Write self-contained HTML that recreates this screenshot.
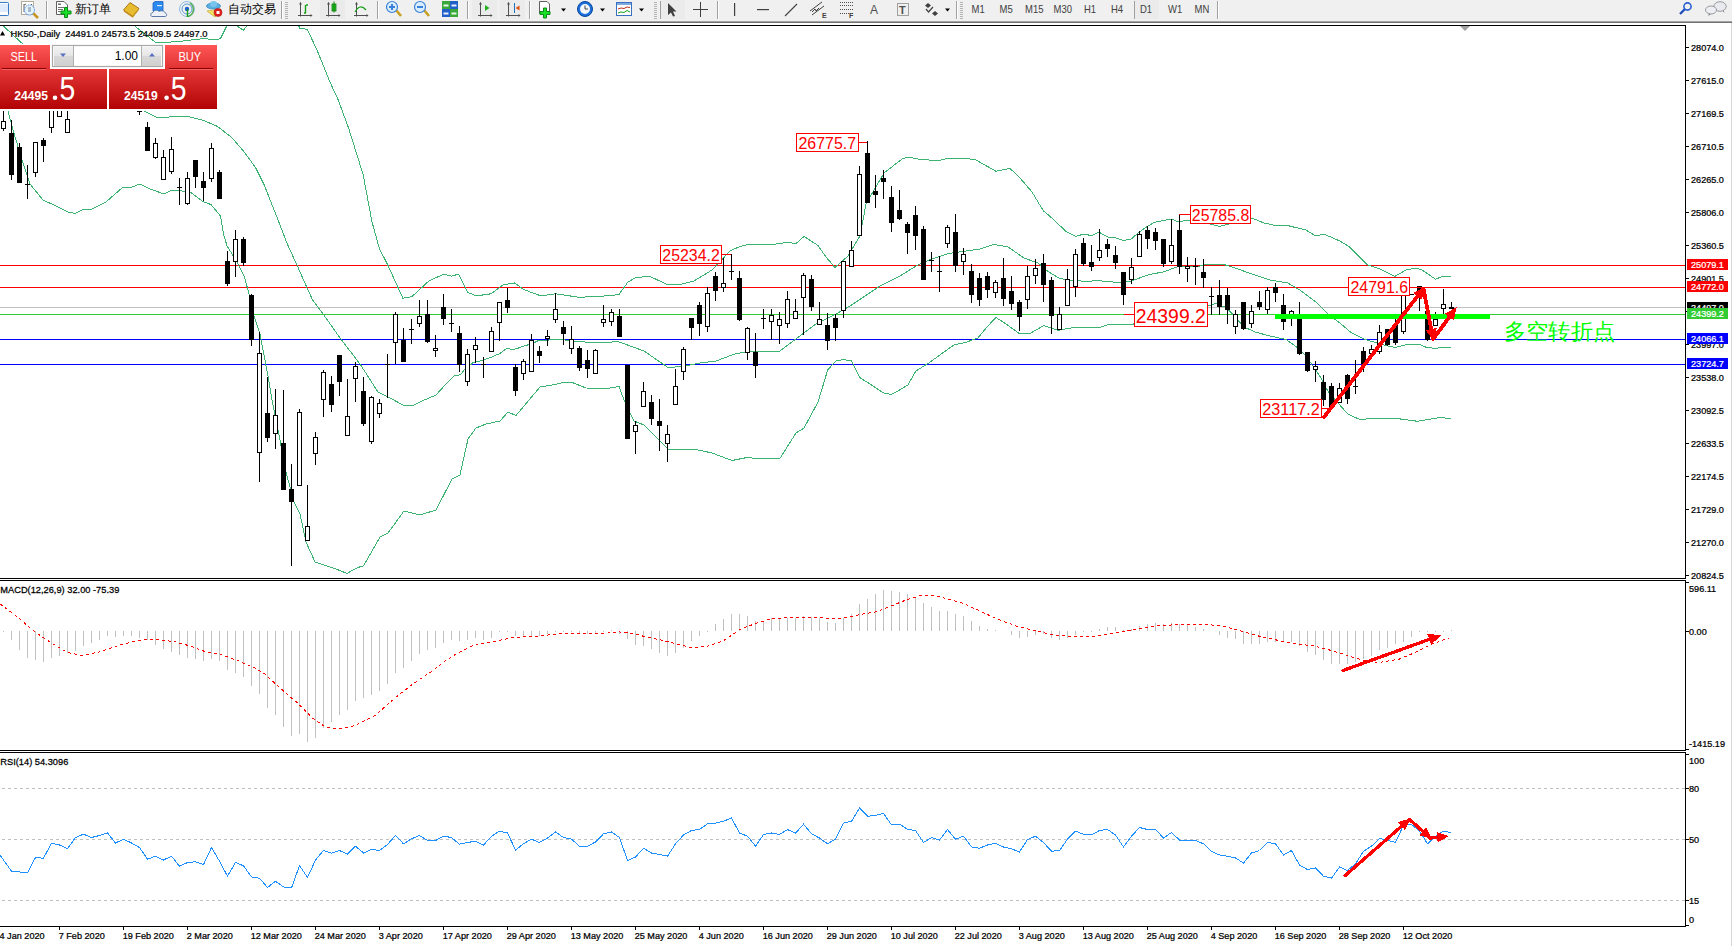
<!DOCTYPE html>
<html><head><meta charset="utf-8"><style>
html,body{margin:0;padding:0;width:1732px;height:946px;overflow:hidden;background:#fff;font-family:"Liberation Sans",sans-serif}
</style></head><body>
<svg width="1732" height="946" viewBox="0 0 1732 946" style="position:absolute;left:0;top:0;font-family:'Liberation Sans', sans-serif">
<defs>
<clipPath id="cm"><rect x="0" y="26" width="1685" height="552"/></clipPath>
<clipPath id="cmacd"><rect x="0" y="581" width="1685" height="169"/></clipPath>
<clipPath id="crsi"><rect x="0" y="753" width="1685" height="173"/></clipPath>
<linearGradient id="gred" x1="0" y1="0" x2="0" y2="1"><stop offset="0" stop-color="#ff5656"/><stop offset="1" stop-color="#e03232"/></linearGradient>
<linearGradient id="gred2" x1="0" y1="0" x2="0" y2="1"><stop offset="0" stop-color="#e43636"/><stop offset="1" stop-color="#b20404"/></linearGradient>
<linearGradient id="gbtn" x1="0" y1="0" x2="0" y2="1"><stop offset="0" stop-color="#f2f2f2"/><stop offset="0.45" stop-color="#e6e6e6"/><stop offset="0.5" stop-color="#d8d8d8"/><stop offset="1" stop-color="#d0d0d0"/></linearGradient>
</defs>
<rect x="0" y="0" width="1732" height="946" fill="#fff"/>
<rect x="0" y="0" width="1732" height="21" fill="#f0f0f0"/>
<rect x="0" y="21" width="1732" height="1" fill="#a4a4a4"/>
<rect x="0" y="22" width="1732" height="1" fill="#727272"/>
<rect x="1731" y="23" width="1" height="923" fill="#d8d8d8"/>
<rect x="-3.5" y="2.5" width="12" height="13" rx="1" fill="#fff" stroke="#3a78c8" stroke-width="1"/>
<rect x="0" y="4.5" width="8" height="1" fill="#c0d8f8"/>
<rect x="0" y="6.5" width="8" height="1" fill="#c0d8f8"/>
<rect x="0" y="8.5" width="8" height="1" fill="#c0d8f8"/>
<rect x="0" y="10.5" width="8" height="1" fill="#c0d8f8"/>
<rect x="21.5" y="1.5" width="12" height="13" fill="#fff" stroke="#b4ac96" stroke-width="1"/>
<path d="M24,4 V12 M24,5 L26,4 M31,4 L32,5" stroke="#606060" stroke-width="1" fill="none"/>
<circle cx="29.5" cy="10" r="5" fill="#e2f4fc" stroke="#5a90e0" stroke-width="1" stroke-dasharray="1.5,0.6"/>
<rect x="28" y="7" width="3" height="5" fill="#a8b8c8"/>
<line x1="33.5" y1="13.5" x2="38" y2="18" stroke="#c8961e" stroke-width="2.5"/>
<rect x="46" y="1" width="1" height="18" fill="#a0a0a0"/><rect x="47" y="1" width="1" height="18" fill="#ffffff"/>
<path d="M56.5,1.5 H64 L67.5,5 V14.5 H56.5 Z" fill="#fff" stroke="#606060" stroke-width="1"/>
<rect x="58" y="3.5" width="3" height="1.5" fill="#707070"/><rect x="58" y="7" width="6" height="1" fill="#707070"/><rect x="58" y="9" width="5" height="1" fill="#707070"/><rect x="58" y="11" width="3" height="1" fill="#707070"/>
<path d="M64.5,7.5 h3 v3.5 h3.5 v3 h-3.5 v3.5 h-3 v-3.5 h-3.5 v-3 h3.5 z" fill="#18e028" stroke="#0a8a14" stroke-width="1"/>
<text x="75" y="13" font-size="12" fill="#000">新订单</text>
<path d="M123.5,10 L130,2.5 L139,8.5 L133,16.5 Z" fill="#e8bc30" stroke="#a8781a" stroke-width="1"/>
<path d="M124,11 L132.5,17 L138.5,9.5" fill="none" stroke="#c89020" stroke-width="1.2"/>
<path d="M153,3 L155,1.5 H163 V11 H153 Z" fill="#2a8af0" stroke="#1a60c0" stroke-width="0.8"/>
<rect x="157" y="5" width="5" height="1.2" fill="#d8ecff"/>
<path d="M152,16.5 C150,16 150.5,12.5 153,12.5 C153.5,10 157.5,9.5 159,11.5 C161,10 165,11 165,13 C167.5,13.5 167,16.5 165,16.5 Z" fill="#eef2f8" stroke="#5a78a8" stroke-width="1"/>
<circle cx="187" cy="9" r="7.5" fill="none" stroke="#78b0e0" stroke-width="1" opacity="0.8"/>
<circle cx="187" cy="9" r="5" fill="none" stroke="#5a98d8" stroke-width="1"/>
<path d="M190,3 A7.5,7.5 0 0 1 188,16.5" fill="none" stroke="#58b058" stroke-width="1.5"/>
<circle cx="187" cy="9" r="2.2" fill="#2060d0"/>
<line x1="187.5" y1="9" x2="187.5" y2="17" stroke="#18a018" stroke-width="1.4"/>
<path d="M207,11 L215,17 L221,9 Z" fill="#f4e060" stroke="#c8b040" stroke-width="0.8"/>
<ellipse cx="213.5" cy="6" rx="7" ry="3" fill="#58b0e0" stroke="#3a88c0" stroke-width="0.8"/>
<ellipse cx="213.5" cy="4" rx="3.5" ry="3" fill="#78c4ec"/>
<circle cx="218" cy="12.5" r="4" fill="#e02020" stroke="#b01010" stroke-width="0.6"/>
<rect x="216.5" y="11" width="3" height="3" fill="#fff"/>
<text x="228" y="13" font-size="12" fill="#000">自动交易</text>
<rect x="281" y="1" width="1" height="18" fill="#a0a0a0"/><rect x="282" y="1" width="1" height="18" fill="#ffffff"/>
<rect x="285" y="2" width="3" height="1" fill="#b4b4b4"/>
<rect x="285" y="4" width="3" height="1" fill="#b4b4b4"/>
<rect x="285" y="6" width="3" height="1" fill="#b4b4b4"/>
<rect x="285" y="8" width="3" height="1" fill="#b4b4b4"/>
<rect x="285" y="10" width="3" height="1" fill="#b4b4b4"/>
<rect x="285" y="12" width="3" height="1" fill="#b4b4b4"/>
<rect x="285" y="14" width="3" height="1" fill="#b4b4b4"/>
<rect x="285" y="16" width="3" height="1" fill="#b4b4b4"/>
<rect x="285" y="18" width="3" height="1" fill="#b4b4b4"/>
<path d="M300.5,2.5 V16.5 M298.0,15.5 H312.0" stroke="#505050" stroke-width="1" fill="none"/>
<polygon points="300.5,2 299.0,4.5 302.0,4.5" fill="#505050"/>
<polygon points="312.5,15.5 310.5,14 310.5,17" fill="#505050"/>
<path d="M305.5,13 V5 M304,13 H306 M306,5 H308" stroke="#18a018" stroke-width="1.4" fill="none"/>
<rect x="320" y="0" width="25" height="19" fill="#eaeaea"/>
<path d="M328.5,2.5 V16.5 M326.0,15.5 H340.0" stroke="#505050" stroke-width="1" fill="none"/>
<polygon points="328.5,2 327.0,4.5 330.0,4.5" fill="#505050"/>
<polygon points="340.5,15.5 338.5,14 338.5,17" fill="#505050"/>
<rect x="332" y="4" width="4" height="7" fill="#20c020" stroke="#108010" stroke-width="0.8"/><rect x="333.5" y="1.5" width="1" height="11" fill="#108010"/>
<path d="M356.5,2.5 V16.5 M354.0,15.5 H368.0" stroke="#505050" stroke-width="1" fill="none"/>
<polygon points="356.5,2 355.0,4.5 358.0,4.5" fill="#505050"/>
<polygon points="368.5,15.5 366.5,14 366.5,17" fill="#505050"/>
<path d="M355,12 Q360,3 366,10" stroke="#18a018" stroke-width="1.2" fill="none"/>
<rect x="377" y="1" width="1" height="18" fill="#a0a0a0"/><rect x="378" y="1" width="1" height="18" fill="#ffffff"/>
<line x1="396.0" y1="10.0" x2="401.0" y2="16.0" stroke="#c8a020" stroke-width="2.6"/>
<circle cx="392.0" cy="7" r="5.5" fill="#d8eefc" stroke="#3a80d8" stroke-width="1.2"/>
<rect x="389.0" y="6" width="6" height="2" fill="#3a80d8"/>
<rect x="391.0" y="4" width="2" height="6" fill="#3a80d8"/>
<line x1="424.0" y1="10.0" x2="429.0" y2="16.0" stroke="#c8a020" stroke-width="2.6"/>
<circle cx="420.0" cy="7" r="5.5" fill="#d8eefc" stroke="#3a80d8" stroke-width="1.2"/>
<rect x="417.0" y="6" width="6" height="2" fill="#3a80d8"/>
<rect x="442" y="1" width="8" height="8" fill="#38a838"/><rect x="450" y="1" width="8" height="8" fill="#2060c8"/><rect x="442" y="9" width="8" height="8" fill="#2060c8"/><rect x="450" y="9" width="8" height="8" fill="#38a838"/>
<rect x="443.5" y="4.5" width="5" height="2" fill="#e8f8e8"/><rect x="451.5" y="4.5" width="5" height="2" fill="#e8f0ff"/><rect x="443.5" y="12.5" width="5" height="2" fill="#e8f0ff"/><rect x="451.5" y="12.5" width="5" height="2" fill="#e8f8e8"/>
<rect x="467" y="1" width="1" height="18" fill="#a0a0a0"/><rect x="468" y="1" width="1" height="18" fill="#ffffff"/>
<rect x="472" y="0" width="25" height="19" fill="#ebebeb"/>
<rect x="500" y="0" width="25" height="19" fill="#ebebeb"/>
<path d="M480.5,2.5 V16.5 M478.0,15.5 H492.0" stroke="#505050" stroke-width="1" fill="none"/>
<polygon points="480.5,2 479.0,4.5 482.0,4.5" fill="#505050"/>
<polygon points="492.5,15.5 490.5,14 490.5,17" fill="#505050"/>
<polygon points="485,5 485,11 489.5,8" fill="#20b020"/>
<path d="M508.5,2.5 V16.5 M506.0,15.5 H520.0" stroke="#505050" stroke-width="1" fill="none"/>
<polygon points="508.5,2 507.0,4.5 510.0,4.5" fill="#505050"/>
<polygon points="520.5,15.5 518.5,14 518.5,17" fill="#505050"/>
<rect x="514" y="3" width="1" height="10" fill="#2070c0"/><polygon points="515.5,8 519.5,5.5 519.5,10.5" fill="#e05010"/>
<rect x="529" y="1" width="1" height="18" fill="#a0a0a0"/><rect x="530" y="1" width="1" height="18" fill="#ffffff"/>
<path d="M539.5,1.5 H547 L549.5,4 V13.5 H539.5 Z" fill="#fff" stroke="#606060" stroke-width="1"/>
<path d="M543.5,8 h3 v3.5 h3.5 v3 h-3.5 v3.5 h-3 v-3.5 h-3.5 v-3 h3.5 z" fill="#18e028" stroke="#0a8a14" stroke-width="1"/>
<polygon points="561,8.5 566,8.5 563.5,11.5" fill="#000"/>
<circle cx="585" cy="9" r="7.5" fill="#1a70d8" stroke="#0a48a0" stroke-width="1"/>
<circle cx="585" cy="9" r="5" fill="#f4f8fc"/>
<path d="M585,5.5 V9 H588" stroke="#303030" stroke-width="0.9" fill="none"/>
<polygon points="600,8.5 605,8.5 602.5,11.5" fill="#000"/>
<rect x="616.5" y="2.5" width="15" height="13" fill="#fff" stroke="#3a70c0" stroke-width="1"/>
<rect x="617" y="3" width="14" height="2" fill="#80a8e0"/>
<path d="M618,9 L621,8 L624,8.5 L627,7 L630,7.5" stroke="#c03020" stroke-width="1" fill="none"/>
<path d="M618,13 L621,12 L624,12.5 L627,10.5 L630,12" stroke="#20a020" stroke-width="1" fill="none"/>
<polygon points="639,8.5 644,8.5 641.5,11.5" fill="#000"/>
<rect x="654" y="2" width="3" height="1" fill="#b4b4b4"/>
<rect x="654" y="4" width="3" height="1" fill="#b4b4b4"/>
<rect x="654" y="6" width="3" height="1" fill="#b4b4b4"/>
<rect x="654" y="8" width="3" height="1" fill="#b4b4b4"/>
<rect x="654" y="10" width="3" height="1" fill="#b4b4b4"/>
<rect x="654" y="12" width="3" height="1" fill="#b4b4b4"/>
<rect x="654" y="14" width="3" height="1" fill="#b4b4b4"/>
<rect x="654" y="16" width="3" height="1" fill="#b4b4b4"/>
<rect x="654" y="18" width="3" height="1" fill="#b4b4b4"/>
<rect x="660" y="1" width="1" height="18" fill="#a0a0a0"/><rect x="661" y="1" width="1" height="18" fill="#ffffff"/>
<rect x="661" y="0" width="24" height="19" fill="#ebebeb"/>
<polygon points="668,3 676.5,11.5 673,11.5 675,16 673,16.5 671,12.5 668,15" fill="#404040"/>
<path d="M700.5,2 V17 M693,9.5 H708" stroke="#404040" stroke-width="1" fill="none"/>
<rect x="717" y="1" width="1" height="18" fill="#a0a0a0"/><rect x="718" y="1" width="1" height="18" fill="#ffffff"/>
<rect x="734" y="3" width="1.2" height="13" fill="#404040"/>
<rect x="757" y="9" width="12" height="1.2" fill="#404040"/>
<line x1="785" y1="16" x2="797" y2="4" stroke="#404040" stroke-width="1.1"/>
<path d="M810,11 L822,2 M812,15 L824,6 M812,12 L815,9 L816,11 L819,8" stroke="#404040" stroke-width="1" fill="none"/>
<text x="822" y="18" font-size="7" font-weight="bold" fill="#404040">E</text>
<line x1="840" y1="2.5" x2="853" y2="2.5" stroke="#505050" stroke-width="1" stroke-dasharray="1,1"/>
<line x1="840" y1="5.5" x2="853" y2="5.5" stroke="#505050" stroke-width="1" stroke-dasharray="1,1"/>
<line x1="840" y1="9.5" x2="853" y2="9.5" stroke="#505050" stroke-width="1" stroke-dasharray="1,1"/>
<line x1="840" y1="13.5" x2="853" y2="13.5" stroke="#505050" stroke-width="1" stroke-dasharray="1,1"/>
<text x="849" y="18" font-size="7" font-weight="bold" fill="#404040">F</text>
<text x="870" y="14" font-size="12" fill="#505050">A</text>
<rect x="897.5" y="3.5" width="11" height="12" fill="none" stroke="#505050" stroke-width="1" stroke-dasharray="1,1"/>
<text x="899" y="14" font-size="11" font-weight="bold" fill="#505050">T</text>
<polygon points="928,3 931,5.5 928,8 925,5.5" fill="#404040"/><polygon points="935,11 938,13.5 935,16 932,13.5" fill="#404040"/><path d="M926,9 L928.5,12 L933,7" stroke="#404040" stroke-width="1.2" fill="none"/>
<polygon points="945,8.5 950,8.5 947.5,11.5" fill="#000"/>
<rect x="956" y="1" width="1" height="18" fill="#a0a0a0"/><rect x="957" y="1" width="1" height="18" fill="#ffffff"/>
<rect x="960" y="2" width="3" height="1" fill="#b4b4b4"/>
<rect x="960" y="4" width="3" height="1" fill="#b4b4b4"/>
<rect x="960" y="6" width="3" height="1" fill="#b4b4b4"/>
<rect x="960" y="8" width="3" height="1" fill="#b4b4b4"/>
<rect x="960" y="10" width="3" height="1" fill="#b4b4b4"/>
<rect x="960" y="12" width="3" height="1" fill="#b4b4b4"/>
<rect x="960" y="14" width="3" height="1" fill="#b4b4b4"/>
<rect x="960" y="16" width="3" height="1" fill="#b4b4b4"/>
<rect x="960" y="18" width="3" height="1" fill="#b4b4b4"/>
<rect x="1134" y="0" width="25" height="19" fill="#ebebeb"/>
<rect x="1134" y="1" width="1" height="18" fill="#a0a0a0"/>
<text x="0" y="0" font-size="10" fill="#404040" transform="translate(971.5,13) scale(0.95,1)">M1</text>
<text x="0" y="0" font-size="10" fill="#404040" transform="translate(999.5,13) scale(0.95,1)">M5</text>
<text x="0" y="0" font-size="10" fill="#404040" transform="translate(1025.0,13) scale(0.95,1)">M15</text>
<text x="0" y="0" font-size="10" fill="#404040" transform="translate(1053.5,13) scale(0.95,1)">M30</text>
<text x="0" y="0" font-size="10" fill="#404040" transform="translate(1084.0,13) scale(0.95,1)">H1</text>
<text x="0" y="0" font-size="10" fill="#404040" transform="translate(1111.0,13) scale(0.95,1)">H4</text>
<text x="0" y="0" font-size="10" fill="#404040" transform="translate(1140.0,13) scale(0.95,1)">D1</text>
<text x="0" y="0" font-size="10" fill="#404040" transform="translate(1168.0,13) scale(0.95,1)">W1</text>
<text x="0" y="0" font-size="10" fill="#404040" transform="translate(1194.5,13) scale(0.95,1)">MN</text>
<rect x="1217" y="1" width="1" height="18" fill="#a0a0a0"/><rect x="1218" y="1" width="1" height="18" fill="#ffffff"/>
<line x1="1680" y1="14" x2="1685" y2="9" stroke="#2050c0" stroke-width="2.4"/>
<circle cx="1687.5" cy="6.5" r="3.6" fill="none" stroke="#2a60d0" stroke-width="1.6"/>
<polygon points="1722,10 1724.5,13 1723,9" fill="#606060"/>
<ellipse cx="1720" cy="6.5" rx="6.2" ry="4.8" fill="#e8eaf0" stroke="#909090" stroke-width="0.9"/>
<polygon points="1709,13 1708.5,16 1711,13.5" fill="#606060"/>
<ellipse cx="1711" cy="10" rx="5.5" ry="4" fill="#eceef4" stroke="#909090" stroke-width="0.9"/>
<path d="M0,25.5 H1685.5 V578.5 H0" fill="none" stroke="#000" stroke-width="1" shape-rendering="crispEdges"/>
<polygon points="1460,26 1470,26 1465,31" fill="#a0a0a0"/>
<path d="M0,580.5 H1685.5 V750.5 H0" fill="none" stroke="#000" stroke-width="1" shape-rendering="crispEdges"/>
<path d="M0,752.5 H1685.5 V926.5 H0" fill="none" stroke="#000" stroke-width="1" shape-rendering="crispEdges"/>
<g clip-path="url(#cm)">
<rect x="0" y="265" width="1685" height="1" fill="#ff0000"/>
<rect x="0" y="287" width="1685" height="1" fill="#ff0000"/>
<rect x="0" y="307" width="1685" height="1" fill="#c0c0c0"/>
<rect x="0" y="314" width="1685" height="1" fill="#32cd32"/>
<rect x="0" y="339" width="1685" height="1" fill="#0000ff"/>
<rect x="0" y="364" width="1685" height="1" fill="#0000ff"/>
<polyline points="100.0,-20.0 135.0,26.2 155.2,42.1 163.5,42.5 180.0,41.4 196.8,39.3 205.0,38.6 212.0,39.7 220.3,38.9 227.2,25.0 230.0,20.0 234.3,24.0 243.3,30.3 252.0,20.0 290.0,20.0 298.2,25.0 300.0,28.5 307.3,29.3 317.6,51.4 329.4,80.8 338.2,99.9 348.5,127.8 363.2,174.8 372.0,221.8 379.3,248.3 388.2,265.9 402.9,298.2 411.7,296.8 429.3,280.6 444.0,274.1 451.3,276.2 458.7,274.1 467.5,292.3 476.3,295.9 491.0,293.8 502.8,285.0 514.5,282.9 523.3,289.4 541.0,295.9 555.6,293.8 579.2,297.3 605.6,295.9 618.8,294.7 628.0,282.0 636.0,277.4 650.0,276.4 668.0,285.0 680.0,284.5 694.0,281.0 712.0,270.0 730.0,251.0 740.0,246.4 748.0,244.4 768.0,245.0 788.0,242.4 796.0,243.6 804.0,236.4 818.0,245.5 826.0,257.0 835.0,267.5 848.0,256.0 860.0,236.0 866.0,204.0 884.0,173.0 902.0,159.0 908.0,157.0 920.0,159.4 938.0,160.6 948.0,158.4 966.0,158.4 976.0,160.0 996.0,171.3 1010.0,168.4 1020.0,178.0 1032.0,192.0 1040.0,205.3 1043.2,210.6 1049.5,215.9 1066.4,231.7 1075.9,236.5 1082.3,234.4 1087.6,234.9 1091.8,235.4 1099.2,232.2 1107.6,237.0 1114.0,237.2 1123.5,240.4 1130.9,239.3 1138.3,232.8 1145.7,227.5 1154.2,222.4 1160.5,221.1 1171.1,219.0 1179.5,222.2 1186.0,220.0 1210.0,224.0 1220.0,226.4 1236.0,222.0 1252.0,218.0 1263.9,223.0 1277.8,226.0 1287.8,225.6 1305.8,230.0 1315.8,236.0 1323.8,234.0 1339.8,241.0 1349.7,247.0 1367.7,265.0 1379.7,269.0 1395.0,276.3 1406.0,270.0 1415.7,268.0 1422.0,270.0 1435.7,279.3 1442.4,276.3 1451.0,276.3" fill="none" stroke="#3cb371" stroke-width="1" shape-rendering="crispEdges"/>
<polyline points="0.0,20.0 3.5,26.2 21.5,42.8 40.0,60.0 100.0,95.0 144.0,111.0 156.0,117.0 164.0,117.6 174.0,116.4 188.0,116.4 202.7,120.1 217.5,126.4 232.3,138.0 244.9,152.8 255.5,167.6 264.0,184.5 276.6,216.2 287.2,243.7 297.8,266.9 306.2,285.9 312.5,299.9 326.0,318.0 340.0,338.0 360.0,364.0 378.0,392.0 390.0,398.0 404.0,405.5 414.0,405.0 422.0,401.0 436.0,395.0 445.0,385.0 454.0,375.9 460.3,374.8 464.6,369.6 473.0,362.7 479.4,361.1 485.7,359.0 492.0,356.9 499.4,353.7 506.8,348.4 513.2,349.5 517.4,348.4 525.9,345.2 530.1,344.7 538.5,340.5 549.1,340.0 560.0,339.5 578.0,341.5 600.0,343.0 618.0,341.5 644.0,351.0 668.0,367.5 682.0,366.5 700.0,363.0 716.0,361.0 734.0,354.3 748.0,351.5 760.0,351.0 780.0,351.0 796.0,339.0 816.0,324.0 836.0,314.0 850.0,306.0 868.0,294.0 880.0,286.0 900.0,276.0 916.0,266.0 930.0,259.6 948.0,253.6 962.0,251.6 980.0,249.0 994.0,244.4 1008.0,247.0 1023.9,258.0 1037.8,263.0 1040.0,264.5 1046.3,270.3 1059.0,278.2 1065.4,279.5 1071.7,280.3 1079.1,280.9 1088.6,281.6 1097.1,280.3 1105.5,281.6 1120.3,282.4 1127.7,281.9 1133.0,280.5 1140.4,277.7 1145.7,275.6 1152.0,274.0 1163.7,271.9 1172.1,268.7 1179.5,266.1 1188.0,266.6 1198.5,266.4 1207.0,264.3 1223.6,264.4 1235.9,268.3 1251.9,274.0 1269.8,280.0 1287.8,283.0 1299.8,290.0 1315.8,302.0 1327.8,314.0 1339.8,323.0 1351.7,333.0 1363.7,339.0 1379.7,343.8 1390.0,346.5 1395.0,347.4 1407.0,344.4 1419.6,344.4 1426.4,347.4 1434.0,348.2 1451.0,347.4" fill="none" stroke="#3cb371" stroke-width="1" shape-rendering="crispEdges"/>
<polyline points="0.0,100.0 8.0,111.0 13.0,130.0 22.0,160.0 30.0,184.0 43.0,200.0 56.0,206.0 68.0,212.0 75.0,213.5 82.0,210.0 92.0,209.0 106.0,202.0 122.0,188.0 132.0,187.0 140.0,184.0 150.0,189.0 164.0,194.0 172.0,190.0 190.0,191.9 202.7,201.4 211.1,204.6 220.6,216.2 223.8,235.2 227.0,245.8 237.5,262.7 243.9,275.4 249.2,294.4 254.0,316.0 260.0,334.0 268.0,376.0 272.0,400.0 280.0,440.0 286.0,472.0 294.0,502.0 300.0,514.0 306.0,542.0 315.0,562.0 324.0,565.0 336.0,569.0 347.0,573.4 358.0,567.4 363.4,566.0 380.0,537.0 388.0,533.0 404.0,511.0 420.0,515.0 436.0,510.0 452.0,479.0 460.0,475.0 468.0,439.0 476.0,428.0 486.0,424.0 500.0,421.0 508.0,412.0 516.0,415.5 540.0,387.0 552.0,385.0 566.0,382.0 572.0,382.4 586.0,388.0 608.0,388.4 619.0,386.4 624.0,400.0 634.0,421.0 644.0,425.0 669.0,450.0 696.0,449.5 712.0,453.0 732.0,460.5 748.0,457.3 754.0,458.3 780.0,458.3 796.0,433.0 804.0,428.0 818.0,402.0 827.7,370.0 835.7,361.0 843.7,359.5 851.7,361.0 859.6,377.5 871.6,385.0 883.6,393.0 891.6,394.4 900.0,389.8 908.0,384.9 916.0,370.9 928.0,363.5 954.0,344.9 966.0,342.3 978.0,337.9 988.0,325.9 995.9,317.5 1005.9,323.9 1019.9,333.9 1029.8,333.5 1043.8,325.5 1057.8,330.3 1071.8,327.9 1099.8,327.3 1109.7,324.3 1123.7,324.9 1134.7,323.9 1170.0,315.0 1207.9,305.9 1215.9,303.5 1225.9,307.5 1233.9,315.5 1243.9,326.9 1255.9,332.3 1269.8,335.9 1285.8,339.4 1297.8,347.8 1305.8,355.8 1319.8,376.0 1327.8,391.0 1339.8,405.0 1347.7,413.9 1359.7,419.5 1367.7,418.9 1399.7,418.9 1417.7,421.3 1439.6,417.5 1451.0,418.5" fill="none" stroke="#3cb371" stroke-width="1" shape-rendering="crispEdges"/>
<rect x="3" y="100" width="1" height="31" fill="#000"/>
<rect x="1.5" y="121.5" width="4" height="7" fill="#fff" stroke="#000" stroke-width="1" shape-rendering="crispEdges"/>
<rect x="11" y="120" width="1" height="60" fill="#000"/>
<rect x="9" y="133" width="5" height="42" fill="#000"/>
<rect x="19" y="143" width="1" height="40" fill="#000"/>
<rect x="17" y="147" width="5" height="36" fill="#000"/>
<rect x="27" y="165" width="1" height="34" fill="#000"/>
<rect x="25" y="184" width="5" height="1" fill="#000"/>
<rect x="35" y="142" width="1" height="35" fill="#000"/>
<rect x="33.5" y="142.5" width="4" height="30" fill="#fff" stroke="#000" stroke-width="1" shape-rendering="crispEdges"/>
<rect x="43" y="138" width="1" height="24" fill="#000"/>
<rect x="41" y="140" width="5" height="6" fill="#000"/>
<rect x="51" y="90" width="1" height="43" fill="#000"/>
<rect x="49.5" y="95.5" width="4" height="32" fill="#fff" stroke="#000" stroke-width="1" shape-rendering="crispEdges"/>
<rect x="59" y="95" width="1" height="22" fill="#000"/>
<rect x="57.5" y="100.5" width="4" height="16" fill="#fff" stroke="#000" stroke-width="1" shape-rendering="crispEdges"/>
<rect x="67" y="100" width="1" height="33" fill="#000"/>
<rect x="65.5" y="119.5" width="4" height="13" fill="#fff" stroke="#000" stroke-width="1" shape-rendering="crispEdges"/>
<rect x="75" y="70" width="1" height="31" fill="#000"/>
<rect x="73" y="75" width="5" height="21" fill="#000"/>
<rect x="83" y="60" width="1" height="36" fill="#000"/>
<rect x="81.5" y="70.5" width="4" height="20" fill="#fff" stroke="#000" stroke-width="1" shape-rendering="crispEdges"/>
<rect x="91" y="55" width="1" height="36" fill="#000"/>
<rect x="89" y="60" width="5" height="21" fill="#000"/>
<rect x="99" y="60" width="1" height="36" fill="#000"/>
<rect x="97.5" y="65.5" width="4" height="20" fill="#fff" stroke="#000" stroke-width="1" shape-rendering="crispEdges"/>
<rect x="107" y="70" width="1" height="31" fill="#000"/>
<rect x="105" y="75" width="5" height="21" fill="#000"/>
<rect x="115" y="70" width="1" height="31" fill="#000"/>
<rect x="113.5" y="80.5" width="4" height="12" fill="#fff" stroke="#000" stroke-width="1" shape-rendering="crispEdges"/>
<rect x="123" y="75" width="1" height="31" fill="#000"/>
<rect x="121" y="80" width="5" height="21" fill="#000"/>
<rect x="131" y="80" width="1" height="28" fill="#000"/>
<rect x="129" y="90" width="5" height="15" fill="#000"/>
<rect x="139" y="100" width="1" height="15" fill="#000"/>
<rect x="137" y="111" width="5" height="1" fill="#000"/>
<rect x="147" y="122" width="1" height="29" fill="#000"/>
<rect x="145" y="127" width="5" height="24" fill="#000"/>
<rect x="155" y="138" width="1" height="21" fill="#000"/>
<rect x="153.5" y="143.5" width="4" height="14" fill="#fff" stroke="#000" stroke-width="1" shape-rendering="crispEdges"/>
<rect x="163" y="150" width="1" height="30" fill="#000"/>
<rect x="161.5" y="157.5" width="4" height="22" fill="#fff" stroke="#000" stroke-width="1" shape-rendering="crispEdges"/>
<rect x="171" y="137" width="1" height="37" fill="#000"/>
<rect x="169.5" y="149.5" width="4" height="22" fill="#fff" stroke="#000" stroke-width="1" shape-rendering="crispEdges"/>
<rect x="179" y="178" width="1" height="27" fill="#000"/>
<rect x="177" y="187" width="5" height="1" fill="#000"/>
<rect x="187" y="172" width="1" height="33" fill="#000"/>
<rect x="185.5" y="178.5" width="4" height="25" fill="#fff" stroke="#000" stroke-width="1" shape-rendering="crispEdges"/>
<rect x="195" y="160" width="1" height="28" fill="#000"/>
<rect x="193" y="160" width="5" height="17" fill="#000"/>
<rect x="203" y="172" width="1" height="29" fill="#000"/>
<rect x="201" y="181" width="5" height="7" fill="#000"/>
<rect x="211" y="143" width="1" height="39" fill="#000"/>
<rect x="209.5" y="148.5" width="4" height="30" fill="#fff" stroke="#000" stroke-width="1" shape-rendering="crispEdges"/>
<rect x="219" y="170" width="1" height="29" fill="#000"/>
<rect x="217" y="172" width="5" height="27" fill="#000"/>
<rect x="227" y="251" width="1" height="35" fill="#000"/>
<rect x="225" y="261" width="5" height="23" fill="#000"/>
<rect x="235" y="230" width="1" height="47" fill="#000"/>
<rect x="233.5" y="239.5" width="4" height="22" fill="#fff" stroke="#000" stroke-width="1" shape-rendering="crispEdges"/>
<rect x="243" y="237" width="1" height="29" fill="#000"/>
<rect x="241" y="239" width="5" height="24" fill="#000"/>
<rect x="251" y="294" width="1" height="52" fill="#000"/>
<rect x="249" y="295" width="5" height="45" fill="#000"/>
<rect x="259" y="332" width="1" height="150" fill="#000"/>
<rect x="257.5" y="353.5" width="4" height="99" fill="#fff" stroke="#000" stroke-width="1" shape-rendering="crispEdges"/>
<rect x="267" y="377" width="1" height="65" fill="#000"/>
<rect x="265" y="413" width="5" height="25" fill="#000"/>
<rect x="275" y="389" width="1" height="60" fill="#000"/>
<rect x="273.5" y="415.5" width="4" height="18" fill="#fff" stroke="#000" stroke-width="1" shape-rendering="crispEdges"/>
<rect x="283" y="390" width="1" height="100" fill="#000"/>
<rect x="281" y="443" width="5" height="47" fill="#000"/>
<rect x="291" y="464" width="1" height="102" fill="#000"/>
<rect x="289" y="489" width="5" height="13" fill="#000"/>
<rect x="299" y="409" width="1" height="77" fill="#000"/>
<rect x="297.5" y="412.5" width="4" height="73" fill="#fff" stroke="#000" stroke-width="1" shape-rendering="crispEdges"/>
<rect x="307" y="485" width="1" height="56" fill="#000"/>
<rect x="305.5" y="526.5" width="4" height="14" fill="#fff" stroke="#000" stroke-width="1" shape-rendering="crispEdges"/>
<rect x="315" y="432" width="1" height="33" fill="#000"/>
<rect x="313.5" y="437.5" width="4" height="16" fill="#fff" stroke="#000" stroke-width="1" shape-rendering="crispEdges"/>
<rect x="323" y="370" width="1" height="47" fill="#000"/>
<rect x="321.5" y="372.5" width="4" height="27" fill="#fff" stroke="#000" stroke-width="1" shape-rendering="crispEdges"/>
<rect x="331" y="376" width="1" height="36" fill="#000"/>
<rect x="329" y="384" width="5" height="21" fill="#000"/>
<rect x="339" y="355" width="1" height="41" fill="#000"/>
<rect x="337" y="355" width="5" height="27" fill="#000"/>
<rect x="347" y="379" width="1" height="57" fill="#000"/>
<rect x="345.5" y="416.5" width="4" height="19" fill="#fff" stroke="#000" stroke-width="1" shape-rendering="crispEdges"/>
<rect x="355" y="362" width="1" height="40" fill="#000"/>
<rect x="353.5" y="366.5" width="4" height="12" fill="#fff" stroke="#000" stroke-width="1" shape-rendering="crispEdges"/>
<rect x="363" y="377" width="1" height="49" fill="#000"/>
<rect x="361" y="391" width="5" height="33" fill="#000"/>
<rect x="371" y="396" width="1" height="48" fill="#000"/>
<rect x="369.5" y="397.5" width="4" height="44" fill="#fff" stroke="#000" stroke-width="1" shape-rendering="crispEdges"/>
<rect x="379" y="399" width="1" height="19" fill="#000"/>
<rect x="377.5" y="403.5" width="4" height="10" fill="#fff" stroke="#000" stroke-width="1" shape-rendering="crispEdges"/>
<rect x="387" y="354" width="1" height="44" fill="#000"/>
<rect x="385" y="364" width="5" height="1" fill="#000"/>
<rect x="395" y="312" width="1" height="52" fill="#000"/>
<rect x="393.5" y="314.5" width="4" height="28" fill="#fff" stroke="#000" stroke-width="1" shape-rendering="crispEdges"/>
<rect x="403" y="328" width="1" height="34" fill="#000"/>
<rect x="401" y="340" width="5" height="22" fill="#000"/>
<rect x="411" y="319" width="1" height="25" fill="#000"/>
<rect x="409" y="329" width="5" height="1" fill="#000"/>
<rect x="419" y="300" width="1" height="27" fill="#000"/>
<rect x="417.5" y="316.5" width="4" height="7" fill="#fff" stroke="#000" stroke-width="1" shape-rendering="crispEdges"/>
<rect x="427" y="300" width="1" height="43" fill="#000"/>
<rect x="425" y="314" width="5" height="28" fill="#000"/>
<rect x="435" y="335" width="1" height="22" fill="#000"/>
<rect x="433.5" y="348.5" width="4" height="2" fill="#fff" stroke="#000" stroke-width="1" shape-rendering="crispEdges"/>
<rect x="443" y="294" width="1" height="31" fill="#000"/>
<rect x="441" y="307" width="5" height="12" fill="#000"/>
<rect x="451" y="309" width="1" height="23" fill="#000"/>
<rect x="449" y="323" width="5" height="1" fill="#000"/>
<rect x="459" y="326" width="1" height="46" fill="#000"/>
<rect x="457" y="333" width="5" height="32" fill="#000"/>
<rect x="467" y="349" width="1" height="37" fill="#000"/>
<rect x="465.5" y="354.5" width="4" height="27" fill="#fff" stroke="#000" stroke-width="1" shape-rendering="crispEdges"/>
<rect x="475" y="337" width="1" height="26" fill="#000"/>
<rect x="473.5" y="345.5" width="4" height="4" fill="#fff" stroke="#000" stroke-width="1" shape-rendering="crispEdges"/>
<rect x="483" y="357" width="1" height="21" fill="#000"/>
<rect x="481" y="364" width="5" height="1" fill="#000"/>
<rect x="491" y="327" width="1" height="25" fill="#000"/>
<rect x="489.5" y="331.5" width="4" height="20" fill="#fff" stroke="#000" stroke-width="1" shape-rendering="crispEdges"/>
<rect x="499" y="302" width="1" height="39" fill="#000"/>
<rect x="497.5" y="302.5" width="4" height="20" fill="#fff" stroke="#000" stroke-width="1" shape-rendering="crispEdges"/>
<rect x="507" y="288" width="1" height="25" fill="#000"/>
<rect x="505" y="300" width="5" height="8" fill="#000"/>
<rect x="515" y="364" width="1" height="32" fill="#000"/>
<rect x="513" y="367" width="5" height="24" fill="#000"/>
<rect x="523" y="359" width="1" height="21" fill="#000"/>
<rect x="521.5" y="361.5" width="4" height="12" fill="#fff" stroke="#000" stroke-width="1" shape-rendering="crispEdges"/>
<rect x="531" y="334" width="1" height="38" fill="#000"/>
<rect x="529.5" y="340.5" width="4" height="31" fill="#fff" stroke="#000" stroke-width="1" shape-rendering="crispEdges"/>
<rect x="539" y="346" width="1" height="17" fill="#000"/>
<rect x="537" y="351" width="5" height="5" fill="#000"/>
<rect x="547" y="330" width="1" height="16" fill="#000"/>
<rect x="545.5" y="336.5" width="4" height="2" fill="#fff" stroke="#000" stroke-width="1" shape-rendering="crispEdges"/>
<rect x="555" y="293" width="1" height="30" fill="#000"/>
<rect x="553.5" y="309.5" width="4" height="10" fill="#fff" stroke="#000" stroke-width="1" shape-rendering="crispEdges"/>
<rect x="563" y="321" width="1" height="24" fill="#000"/>
<rect x="561" y="327" width="5" height="7" fill="#000"/>
<rect x="571" y="326" width="1" height="28" fill="#000"/>
<rect x="569.5" y="339.5" width="4" height="9" fill="#fff" stroke="#000" stroke-width="1" shape-rendering="crispEdges"/>
<rect x="579" y="346" width="1" height="25" fill="#000"/>
<rect x="577" y="348" width="5" height="20" fill="#000"/>
<rect x="587" y="350" width="1" height="28" fill="#000"/>
<rect x="585" y="360" width="5" height="9" fill="#000"/>
<rect x="595" y="349" width="1" height="25" fill="#000"/>
<rect x="593.5" y="350.5" width="4" height="23" fill="#fff" stroke="#000" stroke-width="1" shape-rendering="crispEdges"/>
<rect x="603" y="305" width="1" height="22" fill="#000"/>
<rect x="601.5" y="319.5" width="4" height="3" fill="#fff" stroke="#000" stroke-width="1" shape-rendering="crispEdges"/>
<rect x="611" y="309" width="1" height="17" fill="#000"/>
<rect x="609.5" y="312.5" width="4" height="9" fill="#fff" stroke="#000" stroke-width="1" shape-rendering="crispEdges"/>
<rect x="619" y="309" width="1" height="28" fill="#000"/>
<rect x="617" y="316" width="5" height="21" fill="#000"/>
<rect x="627" y="365" width="1" height="74" fill="#000"/>
<rect x="625" y="365" width="5" height="74" fill="#000"/>
<rect x="635" y="421" width="1" height="33" fill="#000"/>
<rect x="633.5" y="425.5" width="4" height="6" fill="#fff" stroke="#000" stroke-width="1" shape-rendering="crispEdges"/>
<rect x="643" y="382" width="1" height="25" fill="#000"/>
<rect x="641.5" y="391.5" width="4" height="15" fill="#fff" stroke="#000" stroke-width="1" shape-rendering="crispEdges"/>
<rect x="651" y="395" width="1" height="30" fill="#000"/>
<rect x="649" y="402" width="5" height="17" fill="#000"/>
<rect x="659" y="399" width="1" height="52" fill="#000"/>
<rect x="657" y="421" width="5" height="5" fill="#000"/>
<rect x="667" y="425" width="1" height="37" fill="#000"/>
<rect x="665.5" y="434.5" width="4" height="9" fill="#fff" stroke="#000" stroke-width="1" shape-rendering="crispEdges"/>
<rect x="675" y="369" width="1" height="36" fill="#000"/>
<rect x="673.5" y="386.5" width="4" height="18" fill="#fff" stroke="#000" stroke-width="1" shape-rendering="crispEdges"/>
<rect x="683" y="347" width="1" height="33" fill="#000"/>
<rect x="681.5" y="349.5" width="4" height="22" fill="#fff" stroke="#000" stroke-width="1" shape-rendering="crispEdges"/>
<rect x="691" y="318" width="1" height="22" fill="#000"/>
<rect x="689" y="318" width="5" height="10" fill="#000"/>
<rect x="699" y="302" width="1" height="34" fill="#000"/>
<rect x="697" y="305" width="5" height="19" fill="#000"/>
<rect x="707" y="287" width="1" height="45" fill="#000"/>
<rect x="705.5" y="293.5" width="4" height="33" fill="#fff" stroke="#000" stroke-width="1" shape-rendering="crispEdges"/>
<rect x="715" y="272" width="1" height="29" fill="#000"/>
<rect x="713" y="276" width="5" height="15" fill="#000"/>
<rect x="723" y="258" width="1" height="34" fill="#000"/>
<rect x="721.5" y="283.5" width="4" height="4" fill="#fff" stroke="#000" stroke-width="1" shape-rendering="crispEdges"/>
<rect x="731" y="254" width="1" height="26" fill="#000"/>
<rect x="729" y="271" width="5" height="1" fill="#000"/>
<rect x="739" y="271" width="1" height="50" fill="#000"/>
<rect x="737" y="278" width="5" height="42" fill="#000"/>
<rect x="747" y="327" width="1" height="33" fill="#000"/>
<rect x="745.5" y="328.5" width="4" height="24" fill="#fff" stroke="#000" stroke-width="1" shape-rendering="crispEdges"/>
<rect x="755" y="333" width="1" height="45" fill="#000"/>
<rect x="753" y="352" width="5" height="14" fill="#000"/>
<rect x="763" y="309" width="1" height="20" fill="#000"/>
<rect x="761" y="318" width="5" height="1" fill="#000"/>
<rect x="771" y="309" width="1" height="31" fill="#000"/>
<rect x="769.5" y="315.5" width="4" height="6" fill="#fff" stroke="#000" stroke-width="1" shape-rendering="crispEdges"/>
<rect x="779" y="312" width="1" height="32" fill="#000"/>
<rect x="777.5" y="319.5" width="4" height="6" fill="#fff" stroke="#000" stroke-width="1" shape-rendering="crispEdges"/>
<rect x="787" y="291" width="1" height="37" fill="#000"/>
<rect x="785.5" y="299.5" width="4" height="24" fill="#fff" stroke="#000" stroke-width="1" shape-rendering="crispEdges"/>
<rect x="795" y="299" width="1" height="20" fill="#000"/>
<rect x="793.5" y="311.5" width="4" height="7" fill="#fff" stroke="#000" stroke-width="1" shape-rendering="crispEdges"/>
<rect x="803" y="273" width="1" height="62" fill="#000"/>
<rect x="801.5" y="275.5" width="4" height="22" fill="#fff" stroke="#000" stroke-width="1" shape-rendering="crispEdges"/>
<rect x="811" y="275" width="1" height="36" fill="#000"/>
<rect x="809" y="279" width="5" height="28" fill="#000"/>
<rect x="819" y="302" width="1" height="23" fill="#000"/>
<rect x="817.5" y="319.5" width="4" height="5" fill="#fff" stroke="#000" stroke-width="1" shape-rendering="crispEdges"/>
<rect x="827" y="313" width="1" height="37" fill="#000"/>
<rect x="825" y="325" width="5" height="16" fill="#000"/>
<rect x="835" y="314" width="1" height="27" fill="#000"/>
<rect x="833" y="318" width="5" height="10" fill="#000"/>
<rect x="843" y="261" width="1" height="57" fill="#000"/>
<rect x="841.5" y="261.5" width="4" height="49" fill="#fff" stroke="#000" stroke-width="1" shape-rendering="crispEdges"/>
<rect x="851" y="241" width="1" height="26" fill="#000"/>
<rect x="849.5" y="250.5" width="4" height="16" fill="#fff" stroke="#000" stroke-width="1" shape-rendering="crispEdges"/>
<rect x="859" y="166" width="1" height="70" fill="#000"/>
<rect x="857.5" y="174.5" width="4" height="61" fill="#fff" stroke="#000" stroke-width="1" shape-rendering="crispEdges"/>
<rect x="867" y="141" width="1" height="62" fill="#000"/>
<rect x="865" y="153" width="5" height="50" fill="#000"/>
<rect x="875" y="175" width="1" height="33" fill="#000"/>
<rect x="873" y="191" width="5" height="4" fill="#000"/>
<rect x="883" y="170" width="1" height="29" fill="#000"/>
<rect x="881" y="178" width="5" height="4" fill="#000"/>
<rect x="891" y="186" width="1" height="46" fill="#000"/>
<rect x="889" y="197" width="5" height="26" fill="#000"/>
<rect x="899" y="190" width="1" height="30" fill="#000"/>
<rect x="897" y="210" width="5" height="9" fill="#000"/>
<rect x="907" y="222" width="1" height="32" fill="#000"/>
<rect x="905" y="224" width="5" height="9" fill="#000"/>
<rect x="915" y="206" width="1" height="44" fill="#000"/>
<rect x="913" y="215" width="5" height="21" fill="#000"/>
<rect x="923" y="226" width="1" height="54" fill="#000"/>
<rect x="921" y="229" width="5" height="51" fill="#000"/>
<rect x="931" y="252" width="1" height="20" fill="#000"/>
<rect x="929" y="260" width="5" height="1" fill="#000"/>
<rect x="939" y="256" width="1" height="36" fill="#000"/>
<rect x="937" y="271" width="5" height="1" fill="#000"/>
<rect x="947" y="225" width="1" height="23" fill="#000"/>
<rect x="945.5" y="227.5" width="4" height="16" fill="#fff" stroke="#000" stroke-width="1" shape-rendering="crispEdges"/>
<rect x="955" y="214" width="1" height="58" fill="#000"/>
<rect x="953" y="232" width="5" height="34" fill="#000"/>
<rect x="963" y="248" width="1" height="27" fill="#000"/>
<rect x="961.5" y="254.5" width="4" height="7" fill="#fff" stroke="#000" stroke-width="1" shape-rendering="crispEdges"/>
<rect x="971" y="264" width="1" height="39" fill="#000"/>
<rect x="969" y="271" width="5" height="24" fill="#000"/>
<rect x="979" y="273" width="1" height="33" fill="#000"/>
<rect x="977" y="278" width="5" height="22" fill="#000"/>
<rect x="987" y="272" width="1" height="26" fill="#000"/>
<rect x="985" y="276" width="5" height="14" fill="#000"/>
<rect x="995" y="280" width="1" height="18" fill="#000"/>
<rect x="993.5" y="282.5" width="4" height="10" fill="#fff" stroke="#000" stroke-width="1" shape-rendering="crispEdges"/>
<rect x="1003" y="258" width="1" height="48" fill="#000"/>
<rect x="1001" y="278" width="5" height="21" fill="#000"/>
<rect x="1011" y="276" width="1" height="34" fill="#000"/>
<rect x="1009" y="291" width="5" height="13" fill="#000"/>
<rect x="1019" y="300" width="1" height="31" fill="#000"/>
<rect x="1017" y="302" width="5" height="15" fill="#000"/>
<rect x="1027" y="266" width="1" height="43" fill="#000"/>
<rect x="1025.5" y="276.5" width="4" height="23" fill="#fff" stroke="#000" stroke-width="1" shape-rendering="crispEdges"/>
<rect x="1035" y="259" width="1" height="25" fill="#000"/>
<rect x="1033.5" y="268.5" width="4" height="7" fill="#fff" stroke="#000" stroke-width="1" shape-rendering="crispEdges"/>
<rect x="1043" y="254" width="1" height="48" fill="#000"/>
<rect x="1041" y="263" width="5" height="22" fill="#000"/>
<rect x="1051" y="277" width="1" height="57" fill="#000"/>
<rect x="1049" y="280" width="5" height="36" fill="#000"/>
<rect x="1059" y="307" width="1" height="23" fill="#000"/>
<rect x="1057.5" y="314.5" width="4" height="15" fill="#fff" stroke="#000" stroke-width="1" shape-rendering="crispEdges"/>
<rect x="1067" y="269" width="1" height="37" fill="#000"/>
<rect x="1065.5" y="279.5" width="4" height="26" fill="#fff" stroke="#000" stroke-width="1" shape-rendering="crispEdges"/>
<rect x="1075" y="249" width="1" height="48" fill="#000"/>
<rect x="1073.5" y="254.5" width="4" height="32" fill="#fff" stroke="#000" stroke-width="1" shape-rendering="crispEdges"/>
<rect x="1083" y="238" width="1" height="28" fill="#000"/>
<rect x="1081" y="243" width="5" height="21" fill="#000"/>
<rect x="1091" y="245" width="1" height="26" fill="#000"/>
<rect x="1089" y="262" width="5" height="5" fill="#000"/>
<rect x="1099" y="229" width="1" height="32" fill="#000"/>
<rect x="1097.5" y="250.5" width="4" height="7" fill="#fff" stroke="#000" stroke-width="1" shape-rendering="crispEdges"/>
<rect x="1107" y="239" width="1" height="18" fill="#000"/>
<rect x="1105" y="244" width="5" height="5" fill="#000"/>
<rect x="1115" y="246" width="1" height="23" fill="#000"/>
<rect x="1113" y="255" width="5" height="8" fill="#000"/>
<rect x="1123" y="272" width="1" height="33" fill="#000"/>
<rect x="1121" y="272" width="5" height="23" fill="#000"/>
<rect x="1131" y="258" width="1" height="26" fill="#000"/>
<rect x="1129.5" y="267.5" width="4" height="12" fill="#fff" stroke="#000" stroke-width="1" shape-rendering="crispEdges"/>
<rect x="1139" y="231" width="1" height="26" fill="#000"/>
<rect x="1137.5" y="234.5" width="4" height="22" fill="#fff" stroke="#000" stroke-width="1" shape-rendering="crispEdges"/>
<rect x="1147" y="226" width="1" height="23" fill="#000"/>
<rect x="1145" y="230" width="5" height="9" fill="#000"/>
<rect x="1155" y="228" width="1" height="22" fill="#000"/>
<rect x="1153" y="232" width="5" height="9" fill="#000"/>
<rect x="1163" y="239" width="1" height="28" fill="#000"/>
<rect x="1161" y="239" width="5" height="25" fill="#000"/>
<rect x="1171" y="219" width="1" height="45" fill="#000"/>
<rect x="1169.5" y="245.5" width="4" height="16" fill="#fff" stroke="#000" stroke-width="1" shape-rendering="crispEdges"/>
<rect x="1179" y="214" width="1" height="60" fill="#000"/>
<rect x="1177" y="230" width="5" height="37" fill="#000"/>
<rect x="1187" y="257" width="1" height="25" fill="#000"/>
<rect x="1185.5" y="266.5" width="4" height="2" fill="#fff" stroke="#000" stroke-width="1" shape-rendering="crispEdges"/>
<rect x="1195" y="258" width="1" height="27" fill="#000"/>
<rect x="1193" y="266" width="5" height="1" fill="#000"/>
<rect x="1203" y="259" width="1" height="29" fill="#000"/>
<rect x="1201" y="272" width="5" height="6" fill="#000"/>
<rect x="1211" y="287" width="1" height="28" fill="#000"/>
<rect x="1209" y="296" width="5" height="1" fill="#000"/>
<rect x="1219" y="280" width="1" height="35" fill="#000"/>
<rect x="1217" y="295" width="5" height="12" fill="#000"/>
<rect x="1227" y="288" width="1" height="36" fill="#000"/>
<rect x="1225" y="295" width="5" height="15" fill="#000"/>
<rect x="1235" y="310" width="1" height="24" fill="#000"/>
<rect x="1233.5" y="314.5" width="4" height="12" fill="#fff" stroke="#000" stroke-width="1" shape-rendering="crispEdges"/>
<rect x="1243" y="302" width="1" height="28" fill="#000"/>
<rect x="1241" y="302" width="5" height="27" fill="#000"/>
<rect x="1251" y="305" width="1" height="23" fill="#000"/>
<rect x="1249.5" y="311.5" width="4" height="12" fill="#fff" stroke="#000" stroke-width="1" shape-rendering="crispEdges"/>
<rect x="1259" y="291" width="1" height="19" fill="#000"/>
<rect x="1257" y="302" width="5" height="5" fill="#000"/>
<rect x="1267" y="287" width="1" height="27" fill="#000"/>
<rect x="1265.5" y="290.5" width="4" height="19" fill="#fff" stroke="#000" stroke-width="1" shape-rendering="crispEdges"/>
<rect x="1275" y="283" width="1" height="19" fill="#000"/>
<rect x="1273" y="287" width="5" height="6" fill="#000"/>
<rect x="1283" y="294" width="1" height="36" fill="#000"/>
<rect x="1281" y="305" width="5" height="17" fill="#000"/>
<rect x="1291" y="310" width="1" height="16" fill="#000"/>
<rect x="1289.5" y="311.5" width="4" height="4" fill="#fff" stroke="#000" stroke-width="1" shape-rendering="crispEdges"/>
<rect x="1299" y="302" width="1" height="53" fill="#000"/>
<rect x="1297" y="318" width="5" height="36" fill="#000"/>
<rect x="1307" y="352" width="1" height="20" fill="#000"/>
<rect x="1305" y="352" width="5" height="19" fill="#000"/>
<rect x="1315" y="361" width="1" height="21" fill="#000"/>
<rect x="1313.5" y="366.5" width="4" height="3" fill="#fff" stroke="#000" stroke-width="1" shape-rendering="crispEdges"/>
<rect x="1323" y="375" width="1" height="31" fill="#000"/>
<rect x="1321" y="382" width="5" height="18" fill="#000"/>
<rect x="1331" y="383" width="1" height="26" fill="#000"/>
<rect x="1329" y="386" width="5" height="21" fill="#000"/>
<rect x="1339" y="383" width="1" height="20" fill="#000"/>
<rect x="1337.5" y="388.5" width="4" height="14" fill="#fff" stroke="#000" stroke-width="1" shape-rendering="crispEdges"/>
<rect x="1347" y="374" width="1" height="30" fill="#000"/>
<rect x="1345" y="375" width="5" height="24" fill="#000"/>
<rect x="1355" y="360" width="1" height="34" fill="#000"/>
<rect x="1353" y="386" width="5" height="1" fill="#000"/>
<rect x="1363" y="347" width="1" height="25" fill="#000"/>
<rect x="1361" y="351" width="5" height="13" fill="#000"/>
<rect x="1371" y="345" width="1" height="11" fill="#000"/>
<rect x="1369.5" y="349.5" width="4" height="4" fill="#fff" stroke="#000" stroke-width="1" shape-rendering="crispEdges"/>
<rect x="1379" y="325" width="1" height="29" fill="#000"/>
<rect x="1377.5" y="332.5" width="4" height="19" fill="#fff" stroke="#000" stroke-width="1" shape-rendering="crispEdges"/>
<rect x="1387" y="329" width="1" height="17" fill="#000"/>
<rect x="1385" y="329" width="5" height="16" fill="#000"/>
<rect x="1395" y="319" width="1" height="26" fill="#000"/>
<rect x="1393" y="324" width="5" height="19" fill="#000"/>
<rect x="1403" y="292" width="1" height="42" fill="#000"/>
<rect x="1401.5" y="295.5" width="4" height="36" fill="#fff" stroke="#000" stroke-width="1" shape-rendering="crispEdges"/>
<rect x="1409" y="294" width="5" height="1" fill="#000"/>
<rect x="1419" y="286" width="1" height="25" fill="#000"/>
<rect x="1417" y="286" width="5" height="7" fill="#000"/>
<rect x="1427" y="311" width="1" height="30" fill="#000"/>
<rect x="1425" y="311" width="5" height="29" fill="#000"/>
<rect x="1435" y="312" width="1" height="14" fill="#000"/>
<rect x="1433.5" y="319.5" width="4" height="6" fill="#fff" stroke="#000" stroke-width="1" shape-rendering="crispEdges"/>
<rect x="1443" y="289" width="1" height="26" fill="#000"/>
<rect x="1441.5" y="304.5" width="4" height="4" fill="#fff" stroke="#000" stroke-width="1" shape-rendering="crispEdges"/>
<rect x="1451" y="302" width="1" height="7" fill="#000"/>
<rect x="1449" y="307" width="5" height="2" fill="#000"/>
<rect x="1275" y="314" width="215" height="5" fill="#00ff00"/>
</g>
<rect x="796.5" y="133.5" width="62" height="18" fill="#fff" stroke="#ff0000" stroke-width="1" shape-rendering="crispEdges"/>
<rect x="858" y="142" width="9" height="1" fill="#ff0000"/>
<text x="798.5" y="149.0" font-size="16.5" fill="#ff0000" textLength="57.5" lengthAdjust="spacingAndGlyphs">26775.7</text>
<rect x="660.5" y="245.5" width="61" height="18" fill="#fff" stroke="#ff0000" stroke-width="1" shape-rendering="crispEdges"/>
<rect x="722" y="254" width="9" height="1" fill="#ff0000"/>
<text x="662.3" y="261.0" font-size="16.5" fill="#ff0000" textLength="57.5" lengthAdjust="spacingAndGlyphs">25234.2</text>
<rect x="1190.5" y="205.5" width="60" height="18" fill="#fff" stroke="#ff0000" stroke-width="1" shape-rendering="crispEdges"/>
<rect x="1179" y="214" width="11" height="1" fill="#ff0000"/>
<text x="1191.8" y="221.0" font-size="16.5" fill="#ff0000" textLength="57.5" lengthAdjust="spacingAndGlyphs">25785.8</text>
<rect x="1348.5" y="277.5" width="61" height="18" fill="#fff" stroke="#ff0000" stroke-width="1" shape-rendering="crispEdges"/>
<rect x="1409" y="287" width="15" height="1" fill="#ff0000"/>
<text x="1350.5" y="293.0" font-size="16.5" fill="#ff0000" textLength="57.5" lengthAdjust="spacingAndGlyphs">24791.6</text>
<rect x="1260.5" y="399.5" width="61" height="18" fill="#fff" stroke="#ff0000" stroke-width="1" shape-rendering="crispEdges"/>
<rect x="1321" y="408" width="10" height="1" fill="#ff0000"/>
<text x="1262.3" y="415.0" font-size="16.5" fill="#ff0000" textLength="57.5" lengthAdjust="spacingAndGlyphs">23117.2</text>
<rect x="1134.5" y="302.5" width="73" height="24" fill="#fff" stroke="#ff0000" stroke-width="1" shape-rendering="crispEdges"/>
<rect x="1124" y="314" width="10" height="1" fill="#ff0000"/>
<text x="1135.8" y="322.5" font-size="19.6" fill="#ff0000" textLength="70.0" lengthAdjust="spacingAndGlyphs">24399.2</text>
<line x1="1324.0" y1="417.0" x2="1419.0" y2="294.3" stroke="#ff0000" stroke-width="3.8" stroke-linecap="round" shape-rendering="crispEdges"/>
<polygon points="1424.2,287.6 1421.6,298.8 1414.0,293.0" fill="#ff0000" stroke="#ff0000" stroke-width="1" shape-rendering="crispEdges"/>
<line x1="1423.6" y1="289.0" x2="1431.6" y2="331.4" stroke="#ff0000" stroke-width="3.8" stroke-linecap="round" shape-rendering="crispEdges"/>
<polygon points="1433.2,339.8 1426.5,330.4 1436.0,328.6" fill="#ff0000" stroke="#ff0000" stroke-width="1" shape-rendering="crispEdges"/>
<line x1="1433.2" y1="339.0" x2="1450.9" y2="315.0" stroke="#ff0000" stroke-width="3.8" stroke-linecap="round" shape-rendering="crispEdges"/>
<polygon points="1455.9,308.2 1453.5,319.5 1445.8,313.8" fill="#ff0000" stroke="#ff0000" stroke-width="1" shape-rendering="crispEdges"/>
<text x="1504" y="339" font-size="22" fill="#00ff00" textLength="111" lengthAdjust="spacingAndGlyphs">多空转折点</text>
<rect x="0" y="44" width="217" height="67" fill="#fff"/>
<rect x="0" y="45" width="50" height="24" fill="url(#gred)"/>
<rect x="0" y="69" width="107" height="40" fill="url(#gred2)"/>
<rect x="165" y="45" width="52" height="24" fill="url(#gred)"/>
<rect x="109" y="69" width="108" height="40" fill="url(#gred2)"/>
<rect x="2" y="68" width="44" height="1" fill="#8a0000"/><rect x="2" y="69" width="44" height="1" fill="#f06060"/>
<rect x="169" y="68" width="44" height="1" fill="#8a0000"/><rect x="169" y="69" width="44" height="1" fill="#f06060"/>
<text x="0" y="0" font-size="12.3" fill="#fff" transform="translate(10.5,61) scale(0.88,1)">SELL</text>
<text x="0" y="0" font-size="12.3" fill="#fff" transform="translate(178.4,61) scale(0.9,1)">BUY</text>
<rect x="50" y="45" width="115" height="24" fill="#fff"/>
<rect x="52.5" y="45.5" width="110" height="21" fill="#fff" stroke="#a8a8a8" stroke-width="1.2"/>
<rect x="54" y="47" width="19" height="19" fill="url(#gbtn)"/>
<rect x="73" y="46" width="1" height="20" fill="#b0b0b0"/>
<rect x="142" y="47" width="19" height="19" fill="url(#gbtn)"/>
<rect x="141" y="46" width="1" height="20" fill="#b0b0b0"/>
<polygon points="60,53.5 66,53.5 63,57" fill="#5a6fc0"/>
<polygon points="149,56.5 155,56.5 152,53" fill="#5a6fc0"/>
<text x="138" y="60" font-size="12" fill="#000" text-anchor="end">1.00</text>
<text x="0" y="0" font-size="13" font-weight="bold" fill="#fff" transform="translate(14.3,100) scale(0.93,1)">24495</text>
<circle cx="55" cy="97.8" r="2.3" fill="#fff"/>
<text x="0" y="0" font-size="33" fill="#fff" transform="translate(59.5,99.5) scale(0.86,1)">5</text>
<text x="0" y="0" font-size="13" font-weight="bold" fill="#fff" transform="translate(124,100) scale(0.93,1)">24519</text>
<circle cx="166.6" cy="97.8" r="2.3" fill="#fff"/>
<text x="0" y="0" font-size="33" fill="#fff" transform="translate(170.8,99.5) scale(0.86,1)">5</text>
<polygon points="0,35.5 5,35.5 2.5,31" fill="#000"/>
<text x="0" y="0" font-size="9.4" fill="#000" stroke="#000" stroke-width="0.25" transform="translate(10.5,36.8) scale(0.99,1)" xml:space="preserve">HK50-,Daily  24491.0 24573.5 24409.5 24497.0</text>
<rect x="1685" y="47" width="4" height="1" fill="#000"/>
<text x="0" y="0" font-size="9.4" fill="#000" stroke="#000" stroke-width="0.25" transform="translate(1691.0,50.7) scale(0.97,1)">28074.0</text>
<rect x="1685" y="80" width="4" height="1" fill="#000"/>
<text x="0" y="0" font-size="9.4" fill="#000" stroke="#000" stroke-width="0.25" transform="translate(1691.0,83.7) scale(0.97,1)">27615.0</text>
<rect x="1685" y="113" width="4" height="1" fill="#000"/>
<text x="0" y="0" font-size="9.4" fill="#000" stroke="#000" stroke-width="0.25" transform="translate(1691.0,116.7) scale(0.97,1)">27169.5</text>
<rect x="1685" y="146" width="4" height="1" fill="#000"/>
<text x="0" y="0" font-size="9.4" fill="#000" stroke="#000" stroke-width="0.25" transform="translate(1691.0,149.7) scale(0.97,1)">26710.5</text>
<rect x="1685" y="179" width="4" height="1" fill="#000"/>
<text x="0" y="0" font-size="9.4" fill="#000" stroke="#000" stroke-width="0.25" transform="translate(1691.0,182.7) scale(0.97,1)">26265.0</text>
<rect x="1685" y="212" width="4" height="1" fill="#000"/>
<text x="0" y="0" font-size="9.4" fill="#000" stroke="#000" stroke-width="0.25" transform="translate(1691.0,215.7) scale(0.97,1)">25806.0</text>
<rect x="1685" y="245" width="4" height="1" fill="#000"/>
<text x="0" y="0" font-size="9.4" fill="#000" stroke="#000" stroke-width="0.25" transform="translate(1691.0,248.7) scale(0.97,1)">25360.5</text>
<rect x="1685" y="278" width="4" height="1" fill="#000"/>
<text x="0" y="0" font-size="9.4" fill="#000" stroke="#000" stroke-width="0.25" transform="translate(1691.0,281.7) scale(0.97,1)">24901.5</text>
<rect x="1685" y="311" width="4" height="1" fill="#000"/>
<text x="0" y="0" font-size="9.4" fill="#000" stroke="#000" stroke-width="0.25" transform="translate(1691.0,314.7) scale(0.97,1)">24447.0</text>
<rect x="1685" y="344" width="4" height="1" fill="#000"/>
<text x="0" y="0" font-size="9.4" fill="#000" stroke="#000" stroke-width="0.25" transform="translate(1691.0,347.7) scale(0.97,1)">23997.0</text>
<rect x="1685" y="377" width="4" height="1" fill="#000"/>
<text x="0" y="0" font-size="9.4" fill="#000" stroke="#000" stroke-width="0.25" transform="translate(1691.0,380.7) scale(0.97,1)">23538.0</text>
<rect x="1685" y="410" width="4" height="1" fill="#000"/>
<text x="0" y="0" font-size="9.4" fill="#000" stroke="#000" stroke-width="0.25" transform="translate(1691.0,413.7) scale(0.97,1)">23092.5</text>
<rect x="1685" y="443" width="4" height="1" fill="#000"/>
<text x="0" y="0" font-size="9.4" fill="#000" stroke="#000" stroke-width="0.25" transform="translate(1691.0,446.7) scale(0.97,1)">22633.5</text>
<rect x="1685" y="476" width="4" height="1" fill="#000"/>
<text x="0" y="0" font-size="9.4" fill="#000" stroke="#000" stroke-width="0.25" transform="translate(1691.0,479.7) scale(0.97,1)">22174.5</text>
<rect x="1685" y="509" width="4" height="1" fill="#000"/>
<text x="0" y="0" font-size="9.4" fill="#000" stroke="#000" stroke-width="0.25" transform="translate(1691.0,512.7) scale(0.97,1)">21729.0</text>
<rect x="1685" y="542" width="4" height="1" fill="#000"/>
<text x="0" y="0" font-size="9.4" fill="#000" stroke="#000" stroke-width="0.25" transform="translate(1691.0,545.7) scale(0.97,1)">21270.0</text>
<rect x="1685" y="575" width="4" height="1" fill="#000"/>
<text x="0" y="0" font-size="9.4" fill="#000" stroke="#000" stroke-width="0.25" transform="translate(1691.0,578.7) scale(0.97,1)">20824.5</text>
<rect x="1687" y="259" width="41" height="11" fill="#ff0000"/>
<text x="0" y="0" font-size="9.4" fill="#fff" stroke="#fff" stroke-width="0.25" transform="translate(1691.0,268.0) scale(0.97,1)">25079.1</text>
<rect x="1687" y="281" width="41" height="11" fill="#ff0000"/>
<text x="0" y="0" font-size="9.4" fill="#fff" stroke="#fff" stroke-width="0.25" transform="translate(1691.0,290.0) scale(0.97,1)">24772.0</text>
<rect x="1687" y="302" width="41" height="11" fill="#000000"/>
<text x="0" y="0" font-size="9.4" fill="#fff" stroke="#fff" stroke-width="0.25" transform="translate(1691.0,311.0) scale(0.97,1)">24497.0</text>
<rect x="1687" y="308" width="41" height="11" fill="#32cd32"/>
<text x="0" y="0" font-size="9.4" fill="#fff" stroke="#fff" stroke-width="0.25" transform="translate(1691.0,317.0) scale(0.97,1)">24399.2</text>
<rect x="1687" y="333" width="41" height="11" fill="#0000ff"/>
<text x="0" y="0" font-size="9.4" fill="#fff" stroke="#fff" stroke-width="0.25" transform="translate(1691.0,342.0) scale(0.97,1)">24066.1</text>
<rect x="1687" y="358" width="41" height="11" fill="#0000ff"/>
<text x="0" y="0" font-size="9.4" fill="#fff" stroke="#fff" stroke-width="0.25" transform="translate(1691.0,367.0) scale(0.97,1)">23724.7</text>
<g clip-path="url(#cmacd)">
<rect x="3" y="631" width="1" height="1" fill="#c0c0c0"/>
<rect x="11" y="631" width="1" height="9" fill="#c0c0c0"/>
<rect x="19" y="631" width="1" height="19" fill="#c0c0c0"/>
<rect x="27" y="631" width="1" height="27" fill="#c0c0c0"/>
<rect x="35" y="631" width="1" height="29" fill="#c0c0c0"/>
<rect x="43" y="631" width="1" height="31" fill="#c0c0c0"/>
<rect x="51" y="631" width="1" height="27" fill="#c0c0c0"/>
<rect x="59" y="631" width="1" height="25" fill="#c0c0c0"/>
<rect x="67" y="631" width="1" height="22" fill="#c0c0c0"/>
<rect x="75" y="631" width="1" height="20" fill="#c0c0c0"/>
<rect x="83" y="631" width="1" height="15" fill="#c0c0c0"/>
<rect x="91" y="631" width="1" height="12" fill="#c0c0c0"/>
<rect x="99" y="631" width="1" height="9" fill="#c0c0c0"/>
<rect x="107" y="631" width="1" height="5" fill="#c0c0c0"/>
<rect x="115" y="631" width="1" height="6" fill="#c0c0c0"/>
<rect x="123" y="631" width="1" height="5" fill="#c0c0c0"/>
<rect x="131" y="631" width="1" height="5" fill="#c0c0c0"/>
<rect x="139" y="631" width="1" height="7" fill="#c0c0c0"/>
<rect x="147" y="631" width="1" height="9" fill="#c0c0c0"/>
<rect x="155" y="631" width="1" height="14" fill="#c0c0c0"/>
<rect x="163" y="631" width="1" height="18" fill="#c0c0c0"/>
<rect x="171" y="631" width="1" height="21" fill="#c0c0c0"/>
<rect x="179" y="631" width="1" height="24" fill="#c0c0c0"/>
<rect x="187" y="631" width="1" height="27" fill="#c0c0c0"/>
<rect x="195" y="631" width="1" height="28" fill="#c0c0c0"/>
<rect x="203" y="631" width="1" height="30" fill="#c0c0c0"/>
<rect x="211" y="631" width="1" height="28" fill="#c0c0c0"/>
<rect x="219" y="631" width="1" height="30" fill="#c0c0c0"/>
<rect x="227" y="631" width="1" height="39" fill="#c0c0c0"/>
<rect x="235" y="631" width="1" height="42" fill="#c0c0c0"/>
<rect x="243" y="631" width="1" height="46" fill="#c0c0c0"/>
<rect x="251" y="631" width="1" height="55" fill="#c0c0c0"/>
<rect x="259" y="631" width="1" height="63" fill="#c0c0c0"/>
<rect x="267" y="631" width="1" height="77" fill="#c0c0c0"/>
<rect x="275" y="631" width="1" height="84" fill="#c0c0c0"/>
<rect x="283" y="631" width="1" height="96" fill="#c0c0c0"/>
<rect x="291" y="631" width="1" height="105" fill="#c0c0c0"/>
<rect x="299" y="631" width="1" height="103" fill="#c0c0c0"/>
<rect x="307" y="631" width="1" height="111" fill="#c0c0c0"/>
<rect x="315" y="631" width="1" height="107" fill="#c0c0c0"/>
<rect x="323" y="631" width="1" height="97" fill="#c0c0c0"/>
<rect x="331" y="631" width="1" height="91" fill="#c0c0c0"/>
<rect x="339" y="631" width="1" height="84" fill="#c0c0c0"/>
<rect x="347" y="631" width="1" height="79" fill="#c0c0c0"/>
<rect x="355" y="631" width="1" height="70" fill="#c0c0c0"/>
<rect x="363" y="631" width="1" height="67" fill="#c0c0c0"/>
<rect x="371" y="631" width="1" height="64" fill="#c0c0c0"/>
<rect x="379" y="631" width="1" height="60" fill="#c0c0c0"/>
<rect x="387" y="631" width="1" height="53" fill="#c0c0c0"/>
<rect x="395" y="631" width="1" height="42" fill="#c0c0c0"/>
<rect x="403" y="631" width="1" height="37" fill="#c0c0c0"/>
<rect x="411" y="631" width="1" height="30" fill="#c0c0c0"/>
<rect x="419" y="631" width="1" height="23" fill="#c0c0c0"/>
<rect x="427" y="631" width="1" height="19" fill="#c0c0c0"/>
<rect x="435" y="631" width="1" height="17" fill="#c0c0c0"/>
<rect x="443" y="631" width="1" height="12" fill="#c0c0c0"/>
<rect x="451" y="631" width="1" height="9" fill="#c0c0c0"/>
<rect x="459" y="631" width="1" height="10" fill="#c0c0c0"/>
<rect x="467" y="631" width="1" height="9" fill="#c0c0c0"/>
<rect x="475" y="631" width="1" height="7" fill="#c0c0c0"/>
<rect x="483" y="631" width="1" height="9" fill="#c0c0c0"/>
<rect x="491" y="631" width="1" height="7" fill="#c0c0c0"/>
<rect x="499" y="631" width="1" height="1" fill="#c0c0c0"/>
<rect x="507" y="631" width="1" height="1" fill="#c0c0c0"/>
<rect x="515" y="631" width="1" height="5" fill="#c0c0c0"/>
<rect x="523" y="631" width="1" height="6" fill="#c0c0c0"/>
<rect x="531" y="631" width="1" height="5" fill="#c0c0c0"/>
<rect x="539" y="631" width="1" height="5" fill="#c0c0c0"/>
<rect x="547" y="631" width="1" height="3" fill="#c0c0c0"/>
<rect x="555" y="631" width="1" height="1" fill="#c0c0c0"/>
<rect x="563" y="631" width="1" height="1" fill="#c0c0c0"/>
<rect x="571" y="631" width="1" height="1" fill="#c0c0c0"/>
<rect x="579" y="631" width="1" height="2" fill="#c0c0c0"/>
<rect x="587" y="631" width="1" height="3" fill="#c0c0c0"/>
<rect x="595" y="631" width="1" height="3" fill="#c0c0c0"/>
<rect x="603" y="631" width="1" height="1" fill="#c0c0c0"/>
<rect x="611" y="630" width="1" height="1" fill="#c0c0c0"/>
<rect x="619" y="631" width="1" height="3" fill="#c0c0c0"/>
<rect x="627" y="631" width="1" height="8" fill="#c0c0c0"/>
<rect x="635" y="631" width="1" height="14" fill="#c0c0c0"/>
<rect x="643" y="631" width="1" height="15" fill="#c0c0c0"/>
<rect x="651" y="631" width="1" height="18" fill="#c0c0c0"/>
<rect x="659" y="631" width="1" height="22" fill="#c0c0c0"/>
<rect x="667" y="631" width="1" height="25" fill="#c0c0c0"/>
<rect x="675" y="631" width="1" height="22" fill="#c0c0c0"/>
<rect x="683" y="631" width="1" height="17" fill="#c0c0c0"/>
<rect x="691" y="631" width="1" height="10" fill="#c0c0c0"/>
<rect x="699" y="631" width="1" height="5" fill="#c0c0c0"/>
<rect x="707" y="631" width="1" height="1" fill="#c0c0c0"/>
<rect x="715" y="624" width="1" height="7" fill="#c0c0c0"/>
<rect x="723" y="619" width="1" height="12" fill="#c0c0c0"/>
<rect x="731" y="614" width="1" height="17" fill="#c0c0c0"/>
<rect x="739" y="614" width="1" height="17" fill="#c0c0c0"/>
<rect x="747" y="616" width="1" height="15" fill="#c0c0c0"/>
<rect x="755" y="621" width="1" height="10" fill="#c0c0c0"/>
<rect x="763" y="622" width="1" height="9" fill="#c0c0c0"/>
<rect x="771" y="618" width="1" height="13" fill="#c0c0c0"/>
<rect x="779" y="618" width="1" height="13" fill="#c0c0c0"/>
<rect x="787" y="618" width="1" height="13" fill="#c0c0c0"/>
<rect x="795" y="618" width="1" height="13" fill="#c0c0c0"/>
<rect x="803" y="616" width="1" height="15" fill="#c0c0c0"/>
<rect x="811" y="617" width="1" height="14" fill="#c0c0c0"/>
<rect x="819" y="618" width="1" height="13" fill="#c0c0c0"/>
<rect x="827" y="622" width="1" height="9" fill="#c0c0c0"/>
<rect x="835" y="623" width="1" height="8" fill="#c0c0c0"/>
<rect x="843" y="618" width="1" height="13" fill="#c0c0c0"/>
<rect x="851" y="614" width="1" height="17" fill="#c0c0c0"/>
<rect x="859" y="604" width="1" height="27" fill="#c0c0c0"/>
<rect x="867" y="599" width="1" height="32" fill="#c0c0c0"/>
<rect x="875" y="594" width="1" height="37" fill="#c0c0c0"/>
<rect x="883" y="590" width="1" height="41" fill="#c0c0c0"/>
<rect x="891" y="591" width="1" height="40" fill="#c0c0c0"/>
<rect x="899" y="592" width="1" height="39" fill="#c0c0c0"/>
<rect x="907" y="594" width="1" height="37" fill="#c0c0c0"/>
<rect x="915" y="597" width="1" height="34" fill="#c0c0c0"/>
<rect x="923" y="603" width="1" height="28" fill="#c0c0c0"/>
<rect x="931" y="607" width="1" height="24" fill="#c0c0c0"/>
<rect x="939" y="611" width="1" height="20" fill="#c0c0c0"/>
<rect x="947" y="611" width="1" height="20" fill="#c0c0c0"/>
<rect x="955" y="614" width="1" height="17" fill="#c0c0c0"/>
<rect x="963" y="616" width="1" height="15" fill="#c0c0c0"/>
<rect x="971" y="621" width="1" height="10" fill="#c0c0c0"/>
<rect x="979" y="626" width="1" height="5" fill="#c0c0c0"/>
<rect x="987" y="629" width="1" height="2" fill="#c0c0c0"/>
<rect x="995" y="630" width="1" height="1" fill="#c0c0c0"/>
<rect x="1011" y="631" width="1" height="4" fill="#c0c0c0"/>
<rect x="1019" y="631" width="1" height="7" fill="#c0c0c0"/>
<rect x="1027" y="631" width="1" height="6" fill="#c0c0c0"/>
<rect x="1035" y="631" width="1" height="4" fill="#c0c0c0"/>
<rect x="1043" y="631" width="1" height="3" fill="#c0c0c0"/>
<rect x="1051" y="631" width="1" height="7" fill="#c0c0c0"/>
<rect x="1059" y="631" width="1" height="9" fill="#c0c0c0"/>
<rect x="1067" y="631" width="1" height="7" fill="#c0c0c0"/>
<rect x="1075" y="631" width="1" height="4" fill="#c0c0c0"/>
<rect x="1083" y="631" width="1" height="1" fill="#c0c0c0"/>
<rect x="1091" y="631" width="1" height="1" fill="#c0c0c0"/>
<rect x="1099" y="629" width="1" height="2" fill="#c0c0c0"/>
<rect x="1107" y="627" width="1" height="4" fill="#c0c0c0"/>
<rect x="1115" y="627" width="1" height="4" fill="#c0c0c0"/>
<rect x="1123" y="630" width="1" height="1" fill="#c0c0c0"/>
<rect x="1131" y="629" width="1" height="2" fill="#c0c0c0"/>
<rect x="1139" y="626" width="1" height="5" fill="#c0c0c0"/>
<rect x="1147" y="624" width="1" height="7" fill="#c0c0c0"/>
<rect x="1155" y="623" width="1" height="8" fill="#c0c0c0"/>
<rect x="1163" y="624" width="1" height="7" fill="#c0c0c0"/>
<rect x="1171" y="623" width="1" height="8" fill="#c0c0c0"/>
<rect x="1179" y="624" width="1" height="7" fill="#c0c0c0"/>
<rect x="1187" y="625" width="1" height="6" fill="#c0c0c0"/>
<rect x="1195" y="627" width="1" height="4" fill="#c0c0c0"/>
<rect x="1203" y="629" width="1" height="2" fill="#c0c0c0"/>
<rect x="1219" y="631" width="1" height="4" fill="#c0c0c0"/>
<rect x="1227" y="631" width="1" height="7" fill="#c0c0c0"/>
<rect x="1235" y="631" width="1" height="8" fill="#c0c0c0"/>
<rect x="1243" y="631" width="1" height="13" fill="#c0c0c0"/>
<rect x="1251" y="631" width="1" height="13" fill="#c0c0c0"/>
<rect x="1259" y="631" width="1" height="13" fill="#c0c0c0"/>
<rect x="1267" y="631" width="1" height="11" fill="#c0c0c0"/>
<rect x="1275" y="631" width="1" height="11" fill="#c0c0c0"/>
<rect x="1283" y="631" width="1" height="11" fill="#c0c0c0"/>
<rect x="1291" y="631" width="1" height="11" fill="#c0c0c0"/>
<rect x="1299" y="631" width="1" height="15" fill="#c0c0c0"/>
<rect x="1307" y="631" width="1" height="21" fill="#c0c0c0"/>
<rect x="1315" y="631" width="1" height="24" fill="#c0c0c0"/>
<rect x="1323" y="631" width="1" height="29" fill="#c0c0c0"/>
<rect x="1331" y="631" width="1" height="33" fill="#c0c0c0"/>
<rect x="1339" y="631" width="1" height="33" fill="#c0c0c0"/>
<rect x="1347" y="631" width="1" height="33" fill="#c0c0c0"/>
<rect x="1355" y="631" width="1" height="31" fill="#c0c0c0"/>
<rect x="1363" y="631" width="1" height="28" fill="#c0c0c0"/>
<rect x="1371" y="631" width="1" height="25" fill="#c0c0c0"/>
<rect x="1379" y="631" width="1" height="19" fill="#c0c0c0"/>
<rect x="1387" y="631" width="1" height="17" fill="#c0c0c0"/>
<rect x="1395" y="631" width="1" height="13" fill="#c0c0c0"/>
<rect x="1403" y="631" width="1" height="11" fill="#c0c0c0"/>
<rect x="1411" y="631" width="1" height="6" fill="#c0c0c0"/>
<rect x="1419" y="631" width="1" height="1" fill="#c0c0c0"/>
<rect x="1427" y="631" width="1" height="1" fill="#c0c0c0"/>
<rect x="1435" y="631" width="1" height="1" fill="#c0c0c0"/>
<rect x="1443" y="631" width="1" height="1" fill="#c0c0c0"/>
<rect x="1451" y="630" width="1" height="1" fill="#c0c0c0"/>
<polyline points="0.0,604.0 17.5,617.0 35.0,632.0 50.0,642.0 67.5,652.5 82.5,655.5 100.0,651.8 120.0,645.0 137.5,640.5 155.0,639.2 175.0,641.8 190.0,646.0 207.5,652.5 220.0,654.2 237.5,660.5 255.0,668.0 265.0,674.2 280.0,688.0 297.5,703.0 312.5,718.0 325.0,726.8 337.5,729.2 355.0,725.5 375.0,715.5 395.0,698.0 412.5,684.2 433.0,670.5 445.5,660.5 458.0,653.0 473.0,645.5 493.0,641.8 513.0,637.5 538.0,636.0 563.0,633.5 608.0,633.0 618.0,631.8 633.0,633.5 645.5,636.8 663.0,640.5 680.5,645.0 693.0,648.0 708.0,646.0 723.0,641.0 740.5,629.2 758.0,622.5 773.0,618.5 798.0,617.2 823.0,618.0 843.0,618.0 866.0,613.5 876.0,611.8 891.0,606.0 906.0,600.0 921.0,595.5 933.5,595.5 946.0,598.5 961.0,602.5 976.0,609.2 996.0,618.5 1016.0,626.0 1028.5,629.2 1053.5,635.0 1073.5,636.8 1096.0,636.0 1116.0,633.0 1136.0,629.2 1156.0,626.0 1183.5,624.2 1206.0,624.2 1226.0,626.8 1243.5,631.8 1258.5,636.0 1281.0,641.0 1299.0,644.2 1314.0,646.0 1331.5,650.5 1349.0,656.0 1364.0,660.5 1379.0,662.5 1399.0,659.2 1414.0,653.0 1431.5,644.2 1449.0,638.0" fill="none" stroke="#ff0000" stroke-width="1" stroke-dasharray="3,3" shape-rendering="crispEdges"/>
</g>
<line x1="1343.0" y1="670.5" x2="1431.5" y2="638.6" stroke="#ff0000" stroke-width="3.3" stroke-linecap="round" shape-rendering="crispEdges"/>
<polygon points="1440.0,635.5 1431.3,643.9 1428.0,634.5" fill="#ff0000" stroke="#ff0000" stroke-width="1" shape-rendering="crispEdges"/>
<text x="0" y="0" font-size="9.4" fill="#000" stroke="#000" stroke-width="0.25" transform="translate(0.3,593) scale(0.987,1)">MACD(12,26,9) 32.00 -75.39</text>
<rect x="1685" y="582" width="4" height="1" fill="#000"/>
<text x="0" y="0" font-size="9.4" fill="#000" stroke="#000" stroke-width="0.25" transform="translate(1689.0,592.0) scale(0.97,1)">596.11</text>
<rect x="1685" y="631" width="4" height="1" fill="#000"/>
<text x="0" y="0" font-size="9.4" fill="#000" stroke="#000" stroke-width="0.25" transform="translate(1689.0,635.0) scale(0.97,1)">0.00</text>
<rect x="1685" y="749" width="4" height="1" fill="#000"/>
<text x="0" y="0" font-size="9.4" fill="#000" stroke="#000" stroke-width="0.25" transform="translate(1689.0,747.0) scale(0.97,1)">-1415.19</text>
<g clip-path="url(#crsi)">
<line x1="0" y1="788.5" x2="1685" y2="788.5" stroke="#c0c0c0" stroke-width="1" stroke-dasharray="3,3" stroke-dashoffset="4" shape-rendering="crispEdges"/>
<line x1="0" y1="839.5" x2="1685" y2="839.5" stroke="#c0c0c0" stroke-width="1" stroke-dasharray="3,3" stroke-dashoffset="4" shape-rendering="crispEdges"/>
<line x1="0" y1="900.5" x2="1685" y2="900.5" stroke="#c0c0c0" stroke-width="1" stroke-dasharray="3,3" stroke-dashoffset="4" shape-rendering="crispEdges"/>
<polyline points="0.0,855.0 3.5,860.0 11.5,871.2 19.5,872.0 27.5,873.0 35.5,857.5 43.5,858.2 51.5,843.2 59.5,845.0 67.5,848.8 75.5,837.5 83.5,834.2 91.5,837.5 99.5,835.5 107.5,833.0 115.5,843.0 123.5,839.2 131.5,843.0 139.5,847.5 147.5,859.2 155.5,856.2 163.5,860.0 171.5,856.2 179.5,866.2 187.5,862.5 195.5,861.8 203.5,864.5 211.5,847.5 219.5,861.2 227.5,876.2 235.5,862.5 243.5,865.8 251.5,877.0 259.5,878.2 267.5,887.5 275.5,881.2 283.5,887.0 291.5,888.0 299.5,865.5 307.5,877.5 315.5,860.0 323.5,850.5 331.5,853.2 339.5,850.5 347.5,854.2 355.5,846.2 363.5,853.0 371.5,849.5 379.5,850.5 387.5,844.5 395.5,835.5 403.5,843.8 411.5,838.8 419.5,835.5 427.5,840.5 435.5,840.5 443.5,836.2 451.5,837.5 459.5,844.2 467.5,842.5 475.5,841.2 483.5,845.0 491.5,836.2 499.5,831.2 507.5,833.0 515.5,850.0 523.5,843.8 531.5,839.2 539.5,842.5 547.5,838.0 555.5,832.0 563.5,837.5 571.5,839.2 579.5,846.2 587.5,846.2 595.5,842.0 603.5,833.8 611.5,832.0 619.5,837.5 627.5,860.5 635.5,857.0 643.5,848.2 651.5,853.0 659.5,854.5 667.5,856.2 675.5,843.8 683.5,835.0 691.5,830.5 699.5,829.5 707.5,823.8 715.5,823.2 723.5,821.2 731.5,818.0 739.5,833.0 747.5,836.2 755.5,846.2 763.5,834.5 771.5,833.0 779.5,834.5 787.5,829.5 795.5,833.2 803.5,824.2 811.5,833.8 819.5,838.0 827.5,843.8 835.5,839.2 843.5,823.2 851.5,821.2 859.5,808.2 867.5,816.2 875.5,815.5 883.5,813.2 891.5,825.0 899.5,824.2 907.5,829.2 915.5,830.5 923.5,842.5 931.5,837.5 939.5,840.0 947.5,829.5 955.5,839.2 963.5,836.2 971.5,847.0 979.5,848.2 987.5,845.0 995.5,843.2 1003.5,847.0 1011.5,848.8 1019.5,852.0 1027.5,839.5 1035.5,836.2 1043.5,842.5 1051.5,851.2 1059.5,850.5 1067.5,839.2 1075.5,831.2 1083.5,834.2 1091.5,835.0 1099.5,830.5 1107.5,829.5 1115.5,835.0 1123.5,847.0 1131.5,836.2 1139.5,827.5 1147.5,829.5 1155.5,829.5 1163.5,838.0 1171.5,832.5 1179.5,840.0 1187.5,840.0 1195.5,840.5 1203.5,843.8 1211.5,851.2 1219.5,855.0 1227.5,856.2 1235.5,858.0 1243.5,863.0 1251.5,853.0 1259.5,850.5 1267.5,842.5 1275.5,843.8 1283.5,855.0 1291.5,850.5 1299.5,865.0 1307.5,869.5 1315.5,868.0 1323.5,876.2 1331.5,878.2 1339.5,867.0 1347.5,870.5 1355.5,863.8 1363.5,851.2 1371.5,846.2 1379.5,838.5 1387.5,840.3 1395.5,842.5 1403.5,825.0 1411.5,824.4 1419.5,831.0 1427.5,843.8 1435.5,836.2 1443.5,831.2 1451.5,832.5" fill="none" stroke="#1e90ff" stroke-width="1" shape-rendering="crispEdges"/>
</g>
<line x1="1345.2" y1="875.5" x2="1403.5" y2="824.5" stroke="#ff0000" stroke-width="3.3" stroke-linecap="round" shape-rendering="crispEdges"/>
<polygon points="1409.5,819.2 1404.9,829.2 1399.0,822.4" fill="#ff0000" stroke="#ff0000" stroke-width="1" shape-rendering="crispEdges"/>
<line x1="1409.5" y1="819.5" x2="1424.6" y2="832.8" stroke="#ff0000" stroke-width="3.3" stroke-linecap="round" shape-rendering="crispEdges"/>
<polygon points="1430.6,838.1 1420.1,834.9 1426.1,828.1" fill="#ff0000" stroke="#ff0000" stroke-width="1" shape-rendering="crispEdges"/>
<line x1="1430.0" y1="838.0" x2="1439.6" y2="837.1" stroke="#ff0000" stroke-width="3.3" stroke-linecap="round" shape-rendering="crispEdges"/>
<polygon points="1447.6,836.3 1438.1,841.7 1437.2,832.8" fill="#ff0000" stroke="#ff0000" stroke-width="1" shape-rendering="crispEdges"/>
<text x="0" y="0" font-size="9.4" fill="#000" stroke="#000" stroke-width="0.25" transform="translate(0.3,765) scale(0.987,1)">RSI(14) 54.3096</text>
<rect x="1685" y="754" width="4" height="1" fill="#000"/>
<text x="0" y="0" font-size="9.4" fill="#000" stroke="#000" stroke-width="0.25" transform="translate(1689.0,764.0) scale(0.97,1)">100</text>
<rect x="1685" y="788" width="4" height="1" fill="#000"/>
<text x="0" y="0" font-size="9.4" fill="#000" stroke="#000" stroke-width="0.25" transform="translate(1689.0,792.0) scale(0.97,1)">80</text>
<rect x="1685" y="839" width="4" height="1" fill="#000"/>
<text x="0" y="0" font-size="9.4" fill="#000" stroke="#000" stroke-width="0.25" transform="translate(1689.0,843.0) scale(0.97,1)">50</text>
<rect x="1685" y="900" width="4" height="1" fill="#000"/>
<text x="0" y="0" font-size="9.4" fill="#000" stroke="#000" stroke-width="0.25" transform="translate(1689.0,904.0) scale(0.97,1)">15</text>
<rect x="1685" y="925" width="4" height="1" fill="#000"/>
<text x="0" y="0" font-size="9.4" fill="#000" stroke="#000" stroke-width="0.25" transform="translate(1689.0,923.0) scale(0.97,1)">0</text>
<text x="0" y="0" font-size="9.4" fill="#000" stroke="#000" stroke-width="0.25" transform="translate(-0.5,939.0) scale(0.97,1)">4 Jan 2020</text>
<rect x="59" y="927" width="1" height="3" fill="#000"/>
<text x="0" y="0" font-size="9.4" fill="#000" stroke="#000" stroke-width="0.25" transform="translate(58.7,939.0) scale(0.97,1)">7 Feb 2020</text>
<rect x="123" y="927" width="1" height="3" fill="#000"/>
<text x="0" y="0" font-size="9.4" fill="#000" stroke="#000" stroke-width="0.25" transform="translate(122.7,939.0) scale(0.97,1)">19 Feb 2020</text>
<rect x="187" y="927" width="1" height="3" fill="#000"/>
<text x="0" y="0" font-size="9.4" fill="#000" stroke="#000" stroke-width="0.25" transform="translate(186.7,939.0) scale(0.97,1)">2 Mar 2020</text>
<rect x="251" y="927" width="1" height="3" fill="#000"/>
<text x="0" y="0" font-size="9.4" fill="#000" stroke="#000" stroke-width="0.25" transform="translate(250.7,939.0) scale(0.97,1)">12 Mar 2020</text>
<rect x="315" y="927" width="1" height="3" fill="#000"/>
<text x="0" y="0" font-size="9.4" fill="#000" stroke="#000" stroke-width="0.25" transform="translate(314.7,939.0) scale(0.97,1)">24 Mar 2020</text>
<rect x="379" y="927" width="1" height="3" fill="#000"/>
<text x="0" y="0" font-size="9.4" fill="#000" stroke="#000" stroke-width="0.25" transform="translate(378.7,939.0) scale(0.97,1)">3 Apr 2020</text>
<rect x="443" y="927" width="1" height="3" fill="#000"/>
<text x="0" y="0" font-size="9.4" fill="#000" stroke="#000" stroke-width="0.25" transform="translate(442.7,939.0) scale(0.97,1)">17 Apr 2020</text>
<rect x="507" y="927" width="1" height="3" fill="#000"/>
<text x="0" y="0" font-size="9.4" fill="#000" stroke="#000" stroke-width="0.25" transform="translate(506.7,939.0) scale(0.97,1)">29 Apr 2020</text>
<rect x="571" y="927" width="1" height="3" fill="#000"/>
<text x="0" y="0" font-size="9.4" fill="#000" stroke="#000" stroke-width="0.25" transform="translate(570.7,939.0) scale(0.97,1)">13 May 2020</text>
<rect x="635" y="927" width="1" height="3" fill="#000"/>
<text x="0" y="0" font-size="9.4" fill="#000" stroke="#000" stroke-width="0.25" transform="translate(634.7,939.0) scale(0.97,1)">25 May 2020</text>
<rect x="699" y="927" width="1" height="3" fill="#000"/>
<text x="0" y="0" font-size="9.4" fill="#000" stroke="#000" stroke-width="0.25" transform="translate(698.7,939.0) scale(0.97,1)">4 Jun 2020</text>
<rect x="763" y="927" width="1" height="3" fill="#000"/>
<text x="0" y="0" font-size="9.4" fill="#000" stroke="#000" stroke-width="0.25" transform="translate(762.7,939.0) scale(0.97,1)">16 Jun 2020</text>
<rect x="827" y="927" width="1" height="3" fill="#000"/>
<text x="0" y="0" font-size="9.4" fill="#000" stroke="#000" stroke-width="0.25" transform="translate(826.7,939.0) scale(0.97,1)">29 Jun 2020</text>
<rect x="891" y="927" width="1" height="3" fill="#000"/>
<text x="0" y="0" font-size="9.4" fill="#000" stroke="#000" stroke-width="0.25" transform="translate(890.7,939.0) scale(0.97,1)">10 Jul 2020</text>
<rect x="955" y="927" width="1" height="3" fill="#000"/>
<text x="0" y="0" font-size="9.4" fill="#000" stroke="#000" stroke-width="0.25" transform="translate(954.7,939.0) scale(0.97,1)">22 Jul 2020</text>
<rect x="1019" y="927" width="1" height="3" fill="#000"/>
<text x="0" y="0" font-size="9.4" fill="#000" stroke="#000" stroke-width="0.25" transform="translate(1018.7,939.0) scale(0.97,1)">3 Aug 2020</text>
<rect x="1083" y="927" width="1" height="3" fill="#000"/>
<text x="0" y="0" font-size="9.4" fill="#000" stroke="#000" stroke-width="0.25" transform="translate(1082.7,939.0) scale(0.97,1)">13 Aug 2020</text>
<rect x="1147" y="927" width="1" height="3" fill="#000"/>
<text x="0" y="0" font-size="9.4" fill="#000" stroke="#000" stroke-width="0.25" transform="translate(1146.7,939.0) scale(0.97,1)">25 Aug 2020</text>
<rect x="1211" y="927" width="1" height="3" fill="#000"/>
<text x="0" y="0" font-size="9.4" fill="#000" stroke="#000" stroke-width="0.25" transform="translate(1210.7,939.0) scale(0.97,1)">4 Sep 2020</text>
<rect x="1275" y="927" width="1" height="3" fill="#000"/>
<text x="0" y="0" font-size="9.4" fill="#000" stroke="#000" stroke-width="0.25" transform="translate(1274.7,939.0) scale(0.97,1)">16 Sep 2020</text>
<rect x="1339" y="927" width="1" height="3" fill="#000"/>
<text x="0" y="0" font-size="9.4" fill="#000" stroke="#000" stroke-width="0.25" transform="translate(1338.7,939.0) scale(0.97,1)">28 Sep 2020</text>
<rect x="1403" y="927" width="1" height="3" fill="#000"/>
<text x="0" y="0" font-size="9.4" fill="#000" stroke="#000" stroke-width="0.25" transform="translate(1402.7,939.0) scale(0.97,1)">12 Oct 2020</text>
</svg>
</body></html>
